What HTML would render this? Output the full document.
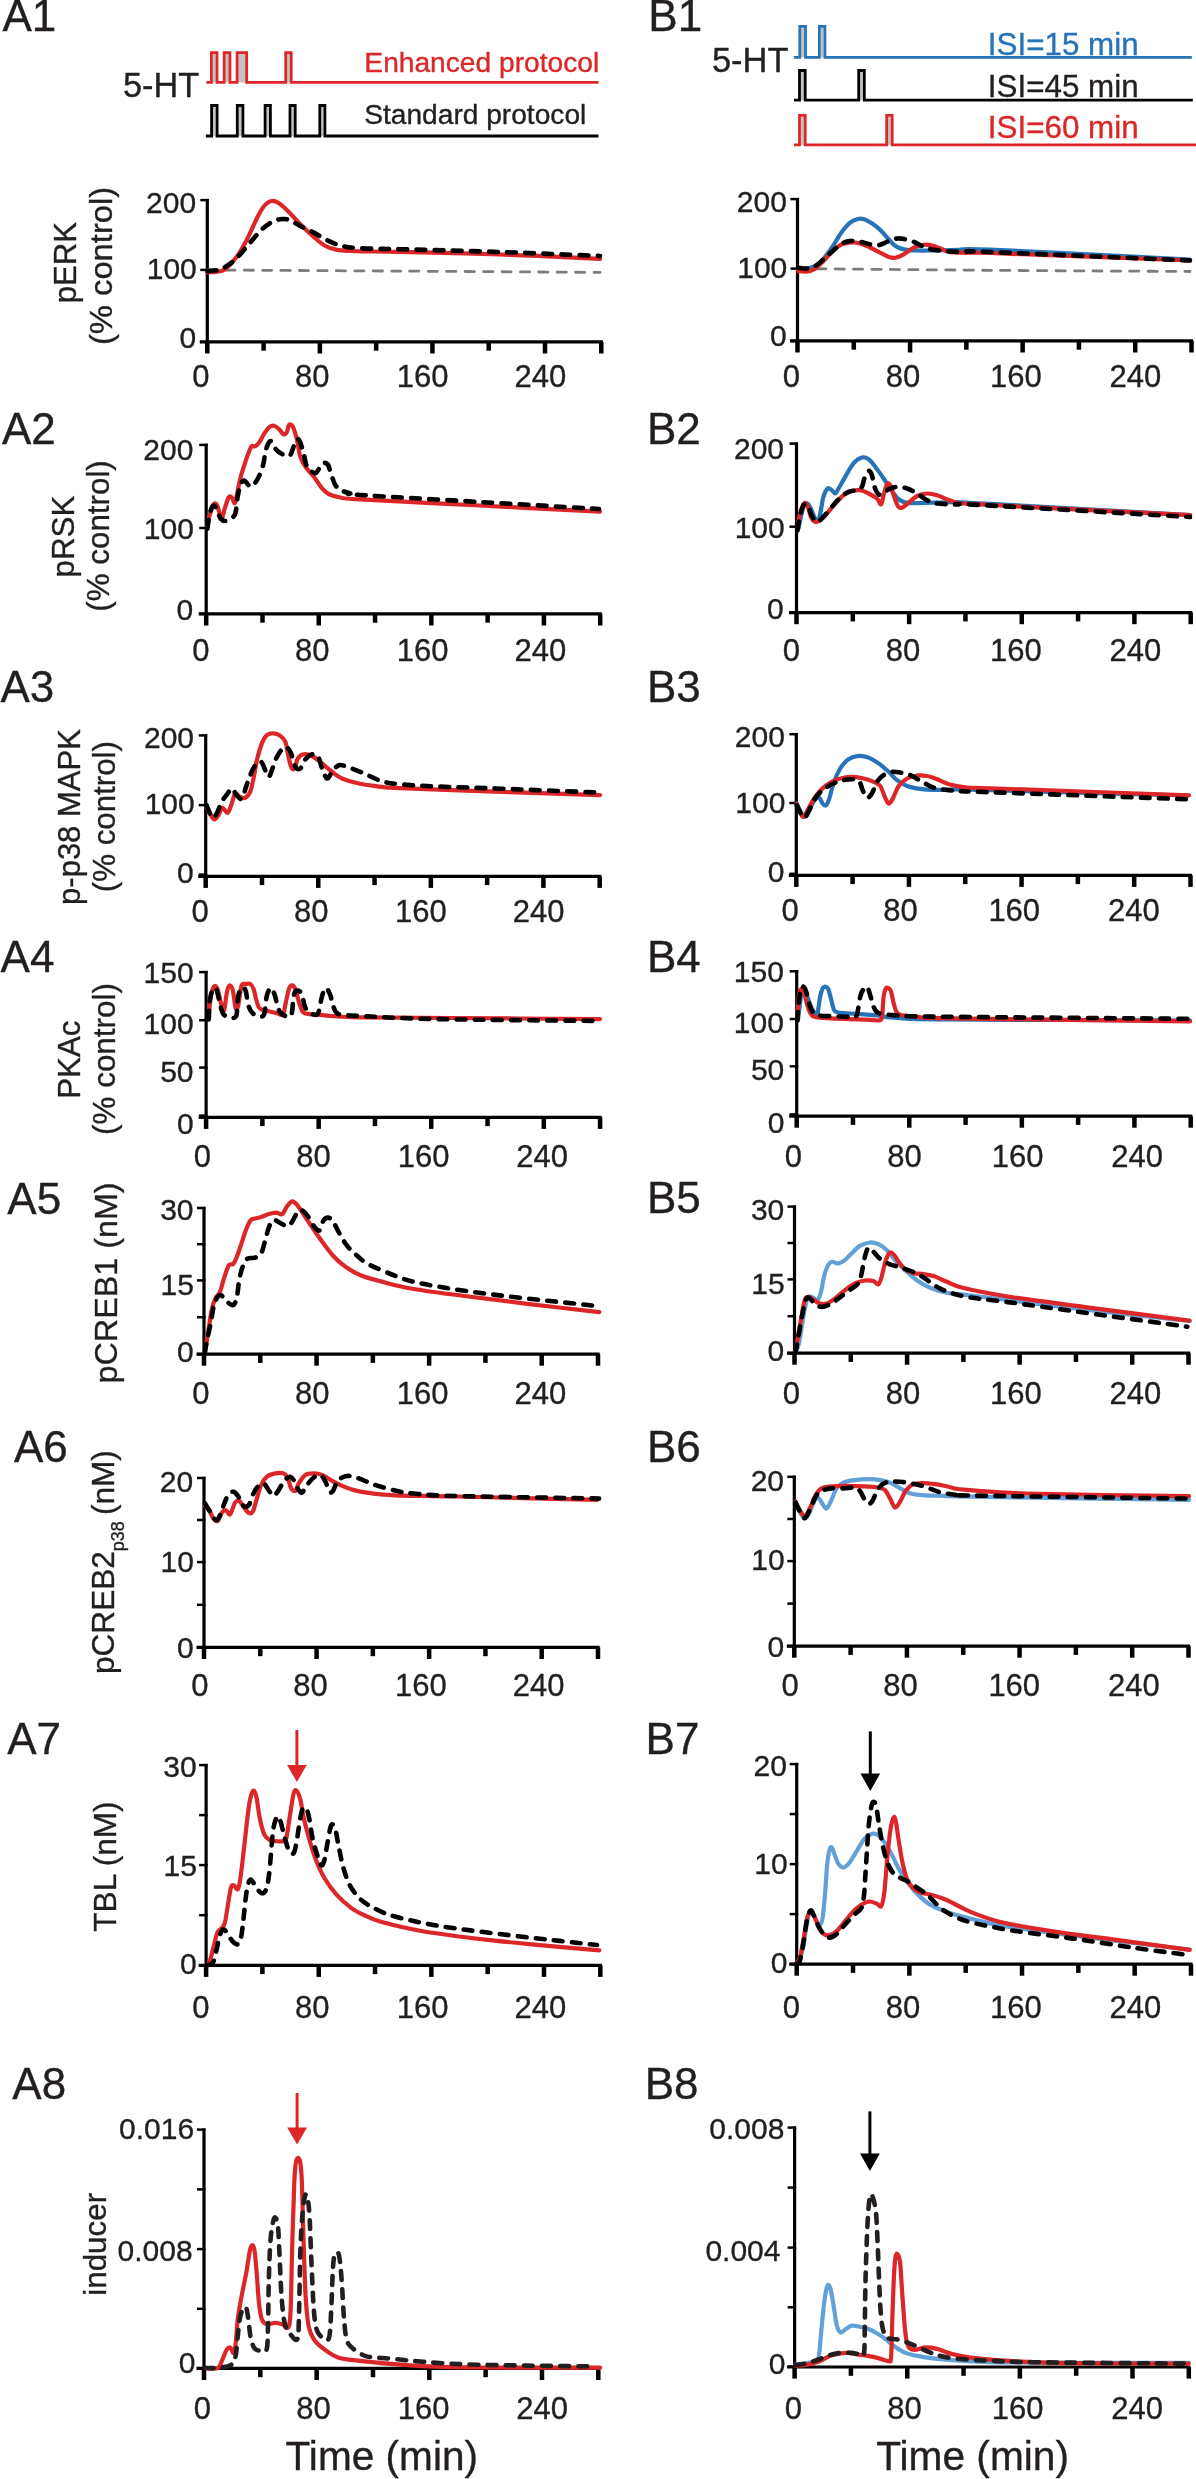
<!DOCTYPE html>
<html><head><meta charset="utf-8"><style>
html,body{margin:0;padding:0;background:#fff;}
svg{display:block;will-change:transform;}
text{font-family:"Liberation Sans",sans-serif;}
</style></head><body>
<svg width="1196" height="2479" viewBox="0 0 1196 2479">
<rect x="0" y="0" width="1196" height="2479" fill="#fff"/>
<text transform="translate(2.38,31.10)" font-size="44" fill="#231f20" stroke="#231f20" stroke-width="0.35">A1</text>
<text transform="translate(1.88,443.90)" font-size="44" fill="#231f20" stroke="#231f20" stroke-width="0.35">A2</text>
<text transform="translate(0.48,701.80)" font-size="44" fill="#231f20" stroke="#231f20" stroke-width="0.35">A3</text>
<text transform="translate(0.58,971.80)" font-size="44" fill="#231f20" stroke="#231f20" stroke-width="0.35">A4</text>
<text transform="translate(7.28,1213.80)" font-size="44" fill="#231f20" stroke="#231f20" stroke-width="0.35">A5</text>
<text transform="translate(13.98,1462.20)" font-size="44" fill="#231f20" stroke="#231f20" stroke-width="0.35">A6</text>
<text transform="translate(7.18,1753.90)" font-size="44" fill="#231f20" stroke="#231f20" stroke-width="0.35">A7</text>
<text transform="translate(12.28,2098.90)" font-size="44" fill="#231f20" stroke="#231f20" stroke-width="0.35">A8</text>
<text transform="translate(648.28,30.80)" font-size="44" fill="#231f20" stroke="#231f20" stroke-width="0.35">B1</text>
<text transform="translate(646.98,443.60)" font-size="44" fill="#231f20" stroke="#231f20" stroke-width="0.35">B2</text>
<text transform="translate(646.98,701.60)" font-size="44" fill="#231f20" stroke="#231f20" stroke-width="0.35">B3</text>
<text transform="translate(646.98,971.60)" font-size="44" fill="#231f20" stroke="#231f20" stroke-width="0.35">B4</text>
<text transform="translate(646.98,1213.30)" font-size="44" fill="#231f20" stroke="#231f20" stroke-width="0.35">B5</text>
<text transform="translate(646.98,1462.20)" font-size="44" fill="#231f20" stroke="#231f20" stroke-width="0.35">B6</text>
<text transform="translate(645.58,1753.80)" font-size="44" fill="#231f20" stroke="#231f20" stroke-width="0.35">B7</text>
<text transform="translate(644.68,2098.90)" font-size="44" fill="#231f20" stroke="#231f20" stroke-width="0.35">B8</text>
<rect x="212.70" y="53.90" width="3.00" height="28.50" fill="#c3c3c3"/>
<rect x="225.50" y="53.90" width="3.10" height="28.50" fill="#c3c3c3"/>
<rect x="238.40" y="53.90" width="6.90" height="28.50" fill="#c3c3c3"/>
<rect x="287.00" y="53.90" width="2.90" height="28.50" fill="#c3c3c3"/>
<path d="M206.40,82.40 L211.40,82.40 L211.40,52.60 L217.00,52.60 L217.00,82.40 L224.20,82.40 L224.20,52.60 L229.90,52.60 L229.90,82.40 L237.10,82.40 L237.10,52.60 L246.60,52.60 L246.60,82.40 L285.70,82.40 L285.70,52.60 L291.20,52.60 L291.20,82.40 L598.50,82.40" fill="none" stroke="#dc2628" stroke-width="2.8" stroke-linejoin="miter"/>
<rect x="212.90" y="106.80" width="2.90" height="29.20" fill="#c3c3c3"/>
<rect x="238.60" y="106.80" width="3.00" height="29.20" fill="#c3c3c3"/>
<rect x="266.40" y="106.80" width="2.70" height="29.20" fill="#c3c3c3"/>
<rect x="291.30" y="106.80" width="2.60" height="29.20" fill="#c3c3c3"/>
<rect x="321.10" y="106.80" width="2.50" height="29.20" fill="#c3c3c3"/>
<path d="M205.90,136.00 L211.60,136.00 L211.60,105.50 L217.10,105.50 L217.10,136.00 L237.30,136.00 L237.30,105.50 L242.90,105.50 L242.90,136.00 L265.10,136.00 L265.10,105.50 L270.40,105.50 L270.40,136.00 L290.00,136.00 L290.00,105.50 L295.20,105.50 L295.20,136.00 L319.80,136.00 L319.80,105.50 L324.90,105.50 L324.90,136.00 L598.50,136.00" fill="none" stroke="#000000" stroke-width="2.8" stroke-linejoin="miter"/>
<rect x="801.10" y="27.60" width="3.10" height="29.80" fill="#c3c3c3"/>
<rect x="820.70" y="27.60" width="2.90" height="29.80" fill="#c3c3c3"/>
<path d="M793.80,57.40 L799.80,57.40 L799.80,26.30 L805.50,26.30 L805.50,57.40 L819.40,57.40 L819.40,26.30 L824.90,26.30 L824.90,57.40 L1191.80,57.40" fill="none" stroke="#2673b8" stroke-width="2.8" stroke-linejoin="miter"/>
<rect x="800.80" y="71.80" width="3.10" height="28.40" fill="#c3c3c3"/>
<rect x="860.00" y="71.80" width="3.00" height="28.40" fill="#c3c3c3"/>
<path d="M794.00,100.20 L799.50,100.20 L799.50,70.50 L805.20,70.50 L805.20,100.20 L858.70,100.20 L858.70,70.50 L864.30,70.50 L864.30,100.20 L1192.80,100.20" fill="none" stroke="#000000" stroke-width="2.8" stroke-linejoin="miter"/>
<rect x="800.80" y="116.70" width="3.10" height="28.20" fill="#c3c3c3"/>
<rect x="888.00" y="116.70" width="2.90" height="28.20" fill="#c3c3c3"/>
<path d="M794.00,144.90 L799.50,144.90 L799.50,115.40 L805.20,115.40 L805.20,144.90 L886.70,144.90 L886.70,115.40 L892.20,115.40 L892.20,144.90 L1196.50,144.90" fill="none" stroke="#dc2628" stroke-width="2.8" stroke-linejoin="miter"/>
<text transform="translate(364.35,71.80) scale(1.0169,1.0000)" font-size="27.7" fill="#dc2628" stroke="#dc2628" stroke-width="0.35">Enhanced protocol</text>
<text transform="translate(364.23,124.40) scale(1.0162,1.0000)" font-size="27.7" fill="#231f20" stroke="#231f20" stroke-width="0.35">Standard protocol</text>
<text transform="translate(122.93,97.10) scale(0.9944,1.0000)" font-size="34.5" fill="#231f20" stroke="#231f20" stroke-width="0.35">5-HT</text>
<text transform="translate(711.92,71.60) scale(0.9997,1.0000)" font-size="34.5" fill="#231f20" stroke="#231f20" stroke-width="0.35">5-HT</text>
<text transform="translate(987.77,54.50) scale(0.9999,1.0000)" font-size="31.4" fill="#2673b8" stroke="#2673b8" stroke-width="0.35">ISI=15 min</text>
<text transform="translate(987.77,96.60) scale(0.9999,1.0000)" font-size="31.4" fill="#231f20" stroke="#231f20" stroke-width="0.35">ISI=45 min</text>
<text transform="translate(987.77,138.40) scale(0.9999,1.0000)" font-size="31.4" fill="#dc2628" stroke="#dc2628" stroke-width="0.35">ISI=60 min</text>
<line x1="207.30" y1="198.90" x2="207.30" y2="341.90" stroke="#000000" stroke-width="3.2"/>
<line x1="199.80" y1="341.90" x2="602.90" y2="341.90" stroke="#000000" stroke-width="3.2"/>
<line x1="200.30" y1="200.10" x2="208.80" y2="200.10" stroke="#000000" stroke-width="2.5"/>
<line x1="200.30" y1="269.90" x2="208.80" y2="269.90" stroke="#000000" stroke-width="2.5"/>
<rect x="205.05" y="341.90" width="4.5" height="11.60" fill="#000"/>
<rect x="261.34" y="341.90" width="4.5" height="8.80" fill="#000"/>
<rect x="317.62" y="341.90" width="4.5" height="11.60" fill="#000"/>
<rect x="373.91" y="341.90" width="4.5" height="8.80" fill="#000"/>
<rect x="430.19" y="341.90" width="4.5" height="11.60" fill="#000"/>
<rect x="486.48" y="341.90" width="4.5" height="8.80" fill="#000"/>
<rect x="542.76" y="341.90" width="4.5" height="11.60" fill="#000"/>
<rect x="599.05" y="341.90" width="4.5" height="11.60" fill="#000"/>
<text transform="translate(192.16,387.20)" font-size="31" fill="#231f20" stroke="#231f20" stroke-width="0.35">0</text>
<text transform="translate(295.00,387.20)" font-size="31" fill="#231f20" stroke="#231f20" stroke-width="0.35">80</text>
<text transform="translate(396.68,387.20)" font-size="31" fill="#231f20" stroke="#231f20" stroke-width="0.35">160</text>
<text transform="translate(514.55,387.20)" font-size="31" fill="#231f20" stroke="#231f20" stroke-width="0.35">240</text>
<text transform="translate(146.07,212.60)" font-size="30.0" fill="#231f20" stroke="#231f20" stroke-width="0.35">200</text>
<text transform="translate(146.70,278.80)" font-size="30.0" fill="#231f20" stroke="#231f20" stroke-width="0.35">100</text>
<text transform="translate(179.38,347.60)" font-size="30.0" fill="#231f20" stroke="#231f20" stroke-width="0.35">0</text>
<line x1="206.20" y1="443.70" x2="206.20" y2="613.90" stroke="#000000" stroke-width="3.2"/>
<line x1="198.70" y1="613.90" x2="601.80" y2="613.90" stroke="#000000" stroke-width="3.2"/>
<line x1="199.20" y1="444.90" x2="207.70" y2="444.90" stroke="#000000" stroke-width="2.5"/>
<line x1="199.20" y1="528.00" x2="207.70" y2="528.00" stroke="#000000" stroke-width="2.5"/>
<line x1="199.20" y1="613.90" x2="207.70" y2="613.90" stroke="#000000" stroke-width="2.5"/>
<rect x="203.95" y="613.90" width="4.5" height="11.60" fill="#000"/>
<rect x="260.24" y="613.90" width="4.5" height="8.80" fill="#000"/>
<rect x="316.52" y="613.90" width="4.5" height="11.60" fill="#000"/>
<rect x="372.81" y="613.90" width="4.5" height="8.80" fill="#000"/>
<rect x="429.09" y="613.90" width="4.5" height="11.60" fill="#000"/>
<rect x="485.38" y="613.90" width="4.5" height="8.80" fill="#000"/>
<rect x="541.66" y="613.90" width="4.5" height="11.60" fill="#000"/>
<rect x="597.95" y="613.90" width="4.5" height="11.60" fill="#000"/>
<text transform="translate(192.16,660.70)" font-size="31" fill="#231f20" stroke="#231f20" stroke-width="0.35">0</text>
<text transform="translate(295.00,660.70)" font-size="31" fill="#231f20" stroke="#231f20" stroke-width="0.35">80</text>
<text transform="translate(396.68,660.70)" font-size="31" fill="#231f20" stroke="#231f20" stroke-width="0.35">160</text>
<text transform="translate(514.55,660.70)" font-size="31" fill="#231f20" stroke="#231f20" stroke-width="0.35">240</text>
<text transform="translate(143.32,460.30)" font-size="30.0" fill="#231f20" stroke="#231f20" stroke-width="0.35">200</text>
<text transform="translate(143.80,539.10)" font-size="30.0" fill="#231f20" stroke="#231f20" stroke-width="0.35">100</text>
<text transform="translate(176.48,619.70)" font-size="30.0" fill="#231f20" stroke="#231f20" stroke-width="0.35">0</text>
<line x1="205.70" y1="734.20" x2="205.70" y2="876.30" stroke="#000000" stroke-width="3.2"/>
<line x1="198.20" y1="876.30" x2="601.30" y2="876.30" stroke="#000000" stroke-width="3.2"/>
<line x1="198.70" y1="735.40" x2="207.20" y2="735.40" stroke="#000000" stroke-width="2.5"/>
<line x1="198.70" y1="805.10" x2="207.20" y2="805.10" stroke="#000000" stroke-width="2.5"/>
<line x1="198.70" y1="874.60" x2="207.20" y2="874.60" stroke="#000000" stroke-width="2.5"/>
<rect x="203.45" y="876.30" width="4.5" height="11.60" fill="#000"/>
<rect x="259.74" y="876.30" width="4.5" height="8.80" fill="#000"/>
<rect x="316.02" y="876.30" width="4.5" height="11.60" fill="#000"/>
<rect x="372.31" y="876.30" width="4.5" height="8.80" fill="#000"/>
<rect x="428.59" y="876.30" width="4.5" height="11.60" fill="#000"/>
<rect x="484.88" y="876.30" width="4.5" height="8.80" fill="#000"/>
<rect x="541.16" y="876.30" width="4.5" height="11.60" fill="#000"/>
<rect x="597.45" y="876.30" width="4.5" height="11.60" fill="#000"/>
<text transform="translate(191.46,921.60)" font-size="31" fill="#231f20" stroke="#231f20" stroke-width="0.35">0</text>
<text transform="translate(294.00,921.60)" font-size="31" fill="#231f20" stroke="#231f20" stroke-width="0.35">80</text>
<text transform="translate(395.07,921.60)" font-size="31" fill="#231f20" stroke="#231f20" stroke-width="0.35">160</text>
<text transform="translate(512.85,921.60)" font-size="31" fill="#231f20" stroke="#231f20" stroke-width="0.35">240</text>
<text transform="translate(143.97,747.80)" font-size="30.0" fill="#231f20" stroke="#231f20" stroke-width="0.35">200</text>
<text transform="translate(144.65,814.30)" font-size="30.0" fill="#231f20" stroke="#231f20" stroke-width="0.35">100</text>
<text transform="translate(177.08,883.00)" font-size="30.0" fill="#231f20" stroke="#231f20" stroke-width="0.35">0</text>
<line x1="206.10" y1="970.90" x2="206.10" y2="1117.30" stroke="#000000" stroke-width="3.2"/>
<line x1="198.60" y1="1117.30" x2="601.70" y2="1117.30" stroke="#000000" stroke-width="3.2"/>
<line x1="199.10" y1="972.10" x2="207.60" y2="972.10" stroke="#000000" stroke-width="2.5"/>
<line x1="199.10" y1="1020.20" x2="207.60" y2="1020.20" stroke="#000000" stroke-width="2.5"/>
<line x1="199.10" y1="1067.60" x2="207.60" y2="1067.60" stroke="#000000" stroke-width="2.5"/>
<line x1="199.10" y1="1115.60" x2="207.60" y2="1115.60" stroke="#000000" stroke-width="2.5"/>
<rect x="203.85" y="1117.30" width="4.5" height="11.60" fill="#000"/>
<rect x="260.14" y="1117.30" width="4.5" height="8.80" fill="#000"/>
<rect x="316.42" y="1117.30" width="4.5" height="11.60" fill="#000"/>
<rect x="372.71" y="1117.30" width="4.5" height="8.80" fill="#000"/>
<rect x="428.99" y="1117.30" width="4.5" height="11.60" fill="#000"/>
<rect x="485.28" y="1117.30" width="4.5" height="8.80" fill="#000"/>
<rect x="541.56" y="1117.30" width="4.5" height="11.60" fill="#000"/>
<rect x="597.85" y="1117.30" width="4.5" height="11.60" fill="#000"/>
<text transform="translate(193.76,1166.60)" font-size="31" fill="#231f20" stroke="#231f20" stroke-width="0.35">0</text>
<text transform="translate(296.31,1166.60)" font-size="31" fill="#231f20" stroke="#231f20" stroke-width="0.35">80</text>
<text transform="translate(397.68,1166.60)" font-size="31" fill="#231f20" stroke="#231f20" stroke-width="0.35">160</text>
<text transform="translate(516.25,1166.60)" font-size="31" fill="#231f20" stroke="#231f20" stroke-width="0.35">240</text>
<text transform="translate(143.60,982.60)" font-size="30.0" fill="#231f20" stroke="#231f20" stroke-width="0.35">150</text>
<text transform="translate(143.60,1033.60)" font-size="30.0" fill="#231f20" stroke="#231f20" stroke-width="0.35">100</text>
<text transform="translate(160.15,1081.80)" font-size="30.0" fill="#231f20" stroke="#231f20" stroke-width="0.35">50</text>
<text transform="translate(177.07,1134.00)" font-size="30.0" fill="#231f20" stroke="#231f20" stroke-width="0.35">0</text>
<line x1="204.00" y1="1206.80" x2="204.00" y2="1354.10" stroke="#000000" stroke-width="3.2"/>
<line x1="196.50" y1="1354.10" x2="599.60" y2="1354.10" stroke="#000000" stroke-width="3.2"/>
<line x1="197.00" y1="1208.00" x2="205.50" y2="1208.00" stroke="#000000" stroke-width="2.5"/>
<line x1="197.00" y1="1280.40" x2="205.50" y2="1280.40" stroke="#000000" stroke-width="2.5"/>
<line x1="197.00" y1="1354.10" x2="205.50" y2="1354.10" stroke="#000000" stroke-width="2.5"/>
<line x1="197.00" y1="1244.20" x2="205.50" y2="1244.20" stroke="#000000" stroke-width="2.5"/>
<line x1="197.00" y1="1317.20" x2="205.50" y2="1317.20" stroke="#000000" stroke-width="2.5"/>
<rect x="201.75" y="1354.10" width="4.5" height="11.60" fill="#000"/>
<rect x="258.04" y="1354.10" width="4.5" height="8.80" fill="#000"/>
<rect x="314.32" y="1354.10" width="4.5" height="11.60" fill="#000"/>
<rect x="370.61" y="1354.10" width="4.5" height="8.80" fill="#000"/>
<rect x="426.89" y="1354.10" width="4.5" height="11.60" fill="#000"/>
<rect x="483.18" y="1354.10" width="4.5" height="8.80" fill="#000"/>
<rect x="539.46" y="1354.10" width="4.5" height="11.60" fill="#000"/>
<rect x="595.75" y="1354.10" width="4.5" height="11.60" fill="#000"/>
<text transform="translate(192.16,1403.60)" font-size="31" fill="#231f20" stroke="#231f20" stroke-width="0.35">0</text>
<text transform="translate(295.00,1403.60)" font-size="31" fill="#231f20" stroke="#231f20" stroke-width="0.35">80</text>
<text transform="translate(396.68,1403.60)" font-size="31" fill="#231f20" stroke="#231f20" stroke-width="0.35">160</text>
<text transform="translate(514.55,1403.60)" font-size="31" fill="#231f20" stroke="#231f20" stroke-width="0.35">240</text>
<text transform="translate(160.15,1220.30)" font-size="30.0" fill="#231f20" stroke="#231f20" stroke-width="0.35">30</text>
<text transform="translate(160.47,1295.00)" font-size="30.0" fill="#231f20" stroke="#231f20" stroke-width="0.35">15</text>
<text transform="translate(177.07,1362.20)" font-size="30.0" fill="#231f20" stroke="#231f20" stroke-width="0.35">0</text>
<line x1="204.00" y1="1476.80" x2="204.00" y2="1647.40" stroke="#000000" stroke-width="3.2"/>
<line x1="196.50" y1="1647.40" x2="599.60" y2="1647.40" stroke="#000000" stroke-width="3.2"/>
<line x1="197.00" y1="1478.00" x2="205.50" y2="1478.00" stroke="#000000" stroke-width="2.5"/>
<line x1="197.00" y1="1562.10" x2="205.50" y2="1562.10" stroke="#000000" stroke-width="2.5"/>
<line x1="197.00" y1="1647.40" x2="205.50" y2="1647.40" stroke="#000000" stroke-width="2.5"/>
<line x1="197.00" y1="1520.00" x2="205.50" y2="1520.00" stroke="#000000" stroke-width="2.5"/>
<line x1="197.00" y1="1604.80" x2="205.50" y2="1604.80" stroke="#000000" stroke-width="2.5"/>
<rect x="201.75" y="1647.40" width="4.5" height="11.60" fill="#000"/>
<rect x="258.04" y="1647.40" width="4.5" height="8.80" fill="#000"/>
<rect x="314.32" y="1647.40" width="4.5" height="11.60" fill="#000"/>
<rect x="370.61" y="1647.40" width="4.5" height="8.80" fill="#000"/>
<rect x="426.89" y="1647.40" width="4.5" height="11.60" fill="#000"/>
<rect x="483.18" y="1647.40" width="4.5" height="8.80" fill="#000"/>
<rect x="539.46" y="1647.40" width="4.5" height="11.60" fill="#000"/>
<rect x="595.75" y="1647.40" width="4.5" height="11.60" fill="#000"/>
<text transform="translate(191.16,1695.90)" font-size="31" fill="#231f20" stroke="#231f20" stroke-width="0.35">0</text>
<text transform="translate(293.31,1695.90)" font-size="31" fill="#231f20" stroke="#231f20" stroke-width="0.35">80</text>
<text transform="translate(395.07,1695.90)" font-size="31" fill="#231f20" stroke="#231f20" stroke-width="0.35">160</text>
<text transform="translate(512.85,1695.90)" font-size="31" fill="#231f20" stroke="#231f20" stroke-width="0.35">240</text>
<text transform="translate(159.80,1491.60)" font-size="30.0" fill="#231f20" stroke="#231f20" stroke-width="0.35">20</text>
<text transform="translate(160.47,1571.90)" font-size="30.0" fill="#231f20" stroke="#231f20" stroke-width="0.35">10</text>
<text transform="translate(176.93,1658.40)" font-size="30.0" fill="#231f20" stroke="#231f20" stroke-width="0.35">0</text>
<line x1="206.10" y1="1763.90" x2="206.10" y2="1965.30" stroke="#000000" stroke-width="3.2"/>
<line x1="198.60" y1="1965.30" x2="601.90" y2="1965.30" stroke="#000000" stroke-width="3.2"/>
<line x1="199.10" y1="1765.10" x2="207.60" y2="1765.10" stroke="#000000" stroke-width="2.5"/>
<line x1="199.10" y1="1865.10" x2="207.60" y2="1865.10" stroke="#000000" stroke-width="2.5"/>
<line x1="199.10" y1="1965.30" x2="207.60" y2="1965.30" stroke="#000000" stroke-width="2.5"/>
<line x1="199.10" y1="1815.10" x2="207.60" y2="1815.10" stroke="#000000" stroke-width="2.5"/>
<line x1="199.10" y1="1915.20" x2="207.60" y2="1915.20" stroke="#000000" stroke-width="2.5"/>
<rect x="203.85" y="1965.30" width="4.5" height="11.60" fill="#000"/>
<rect x="260.16" y="1965.30" width="4.5" height="8.80" fill="#000"/>
<rect x="316.48" y="1965.30" width="4.5" height="11.60" fill="#000"/>
<rect x="372.79" y="1965.30" width="4.5" height="8.80" fill="#000"/>
<rect x="429.11" y="1965.30" width="4.5" height="11.60" fill="#000"/>
<rect x="485.42" y="1965.30" width="4.5" height="8.80" fill="#000"/>
<rect x="541.74" y="1965.30" width="4.5" height="11.60" fill="#000"/>
<rect x="598.05" y="1965.30" width="4.5" height="11.60" fill="#000"/>
<text transform="translate(192.16,2018.20)" font-size="31" fill="#231f20" stroke="#231f20" stroke-width="0.35">0</text>
<text transform="translate(295.00,2018.20)" font-size="31" fill="#231f20" stroke="#231f20" stroke-width="0.35">80</text>
<text transform="translate(396.68,2018.20)" font-size="31" fill="#231f20" stroke="#231f20" stroke-width="0.35">160</text>
<text transform="translate(514.55,2018.20)" font-size="31" fill="#231f20" stroke="#231f20" stroke-width="0.35">240</text>
<text transform="translate(163.35,1776.80)" font-size="30.0" fill="#231f20" stroke="#231f20" stroke-width="0.35">30</text>
<text transform="translate(163.52,1875.50)" font-size="30.0" fill="#231f20" stroke="#231f20" stroke-width="0.35">15</text>
<text transform="translate(179.98,1974.30)" font-size="30.0" fill="#231f20" stroke="#231f20" stroke-width="0.35">0</text>
<line x1="204.00" y1="2128.40" x2="204.00" y2="2368.40" stroke="#000000" stroke-width="3.2"/>
<line x1="196.50" y1="2368.40" x2="599.90" y2="2368.40" stroke="#000000" stroke-width="3.2"/>
<line x1="197.00" y1="2129.60" x2="205.50" y2="2129.60" stroke="#000000" stroke-width="2.5"/>
<line x1="197.00" y1="2249.10" x2="205.50" y2="2249.10" stroke="#000000" stroke-width="2.5"/>
<line x1="197.00" y1="2368.40" x2="205.50" y2="2368.40" stroke="#000000" stroke-width="2.5"/>
<line x1="197.00" y1="2189.40" x2="205.50" y2="2189.40" stroke="#000000" stroke-width="2.5"/>
<line x1="197.00" y1="2308.80" x2="205.50" y2="2308.80" stroke="#000000" stroke-width="2.5"/>
<rect x="201.75" y="2368.40" width="4.5" height="11.60" fill="#000"/>
<rect x="258.08" y="2368.40" width="4.5" height="8.80" fill="#000"/>
<rect x="314.41" y="2368.40" width="4.5" height="11.60" fill="#000"/>
<rect x="370.74" y="2368.40" width="4.5" height="8.80" fill="#000"/>
<rect x="427.06" y="2368.40" width="4.5" height="11.60" fill="#000"/>
<rect x="483.39" y="2368.40" width="4.5" height="8.80" fill="#000"/>
<rect x="539.72" y="2368.40" width="4.5" height="11.60" fill="#000"/>
<rect x="596.05" y="2368.40" width="4.5" height="11.60" fill="#000"/>
<text transform="translate(193.76,2419.30)" font-size="31" fill="#231f20" stroke="#231f20" stroke-width="0.35">0</text>
<text transform="translate(296.31,2419.30)" font-size="31" fill="#231f20" stroke="#231f20" stroke-width="0.35">80</text>
<text transform="translate(397.68,2419.30)" font-size="31" fill="#231f20" stroke="#231f20" stroke-width="0.35">160</text>
<text transform="translate(516.25,2419.30)" font-size="31" fill="#231f20" stroke="#231f20" stroke-width="0.35">240</text>
<text transform="translate(119.02,2138.60)" font-size="30.0" fill="#231f20" stroke="#231f20" stroke-width="0.35">0.016</text>
<text transform="translate(117.52,2260.60)" font-size="30.0" fill="#231f20" stroke="#231f20" stroke-width="0.35">0.008</text>
<text transform="translate(178.73,2373.40)" font-size="30.0" fill="#231f20" stroke="#231f20" stroke-width="0.35">0</text>
<line x1="797.50" y1="197.90" x2="797.50" y2="340.90" stroke="#000000" stroke-width="3.2"/>
<line x1="790.00" y1="340.90" x2="1193.10" y2="340.90" stroke="#000000" stroke-width="3.2"/>
<line x1="790.50" y1="199.10" x2="799.00" y2="199.10" stroke="#000000" stroke-width="2.5"/>
<line x1="790.50" y1="268.60" x2="799.00" y2="268.60" stroke="#000000" stroke-width="2.5"/>
<line x1="790.50" y1="340.90" x2="799.00" y2="340.90" stroke="#000000" stroke-width="2.5"/>
<rect x="795.25" y="340.90" width="4.5" height="11.60" fill="#000"/>
<rect x="851.54" y="340.90" width="4.5" height="8.80" fill="#000"/>
<rect x="907.82" y="340.90" width="4.5" height="11.60" fill="#000"/>
<rect x="964.11" y="340.90" width="4.5" height="8.80" fill="#000"/>
<rect x="1020.39" y="340.90" width="4.5" height="11.60" fill="#000"/>
<rect x="1076.68" y="340.90" width="4.5" height="8.80" fill="#000"/>
<rect x="1132.96" y="340.90" width="4.5" height="11.60" fill="#000"/>
<rect x="1189.25" y="340.90" width="4.5" height="11.60" fill="#000"/>
<text transform="translate(782.76,387.20)" font-size="31" fill="#231f20" stroke="#231f20" stroke-width="0.35">0</text>
<text transform="translate(885.71,387.20)" font-size="31" fill="#231f20" stroke="#231f20" stroke-width="0.35">80</text>
<text transform="translate(990.07,387.20)" font-size="31" fill="#231f20" stroke="#231f20" stroke-width="0.35">160</text>
<text transform="translate(1109.55,387.20)" font-size="31" fill="#231f20" stroke="#231f20" stroke-width="0.35">240</text>
<text transform="translate(736.78,211.60)" font-size="30.0" fill="#231f20" stroke="#231f20" stroke-width="0.35">200</text>
<text transform="translate(737.20,277.60)" font-size="30.0" fill="#231f20" stroke="#231f20" stroke-width="0.35">100</text>
<text transform="translate(770.08,345.90)" font-size="30.0" fill="#231f20" stroke="#231f20" stroke-width="0.35">0</text>
<line x1="796.50" y1="442.40" x2="796.50" y2="612.60" stroke="#000000" stroke-width="3.2"/>
<line x1="789.00" y1="612.60" x2="1192.30" y2="612.60" stroke="#000000" stroke-width="3.2"/>
<line x1="789.50" y1="443.60" x2="798.00" y2="443.60" stroke="#000000" stroke-width="2.5"/>
<line x1="789.50" y1="526.70" x2="798.00" y2="526.70" stroke="#000000" stroke-width="2.5"/>
<line x1="789.50" y1="612.60" x2="798.00" y2="612.60" stroke="#000000" stroke-width="2.5"/>
<rect x="794.25" y="612.60" width="4.5" height="11.60" fill="#000"/>
<rect x="850.56" y="612.60" width="4.5" height="8.80" fill="#000"/>
<rect x="906.88" y="612.60" width="4.5" height="11.60" fill="#000"/>
<rect x="963.19" y="612.60" width="4.5" height="8.80" fill="#000"/>
<rect x="1019.51" y="612.60" width="4.5" height="11.60" fill="#000"/>
<rect x="1075.82" y="612.60" width="4.5" height="8.80" fill="#000"/>
<rect x="1132.14" y="612.60" width="4.5" height="11.60" fill="#000"/>
<rect x="1188.45" y="612.60" width="4.5" height="11.60" fill="#000"/>
<text transform="translate(782.76,660.70)" font-size="31" fill="#231f20" stroke="#231f20" stroke-width="0.35">0</text>
<text transform="translate(885.71,660.70)" font-size="31" fill="#231f20" stroke="#231f20" stroke-width="0.35">80</text>
<text transform="translate(990.07,660.70)" font-size="31" fill="#231f20" stroke="#231f20" stroke-width="0.35">160</text>
<text transform="translate(1109.55,660.70)" font-size="31" fill="#231f20" stroke="#231f20" stroke-width="0.35">240</text>
<text transform="translate(733.98,459.30)" font-size="30.0" fill="#231f20" stroke="#231f20" stroke-width="0.35">200</text>
<text transform="translate(734.65,537.60)" font-size="30.0" fill="#231f20" stroke="#231f20" stroke-width="0.35">100</text>
<text transform="translate(767.07,618.50)" font-size="30.0" fill="#231f20" stroke="#231f20" stroke-width="0.35">0</text>
<line x1="796.30" y1="733.00" x2="796.30" y2="875.30" stroke="#000000" stroke-width="3.2"/>
<line x1="788.80" y1="875.30" x2="1192.10" y2="875.30" stroke="#000000" stroke-width="3.2"/>
<line x1="789.30" y1="734.20" x2="797.80" y2="734.20" stroke="#000000" stroke-width="2.5"/>
<line x1="789.30" y1="803.00" x2="797.80" y2="803.00" stroke="#000000" stroke-width="2.5"/>
<line x1="789.30" y1="873.80" x2="797.80" y2="873.80" stroke="#000000" stroke-width="2.5"/>
<rect x="794.05" y="875.30" width="4.5" height="11.60" fill="#000"/>
<rect x="850.36" y="875.30" width="4.5" height="8.80" fill="#000"/>
<rect x="906.68" y="875.30" width="4.5" height="11.60" fill="#000"/>
<rect x="962.99" y="875.30" width="4.5" height="8.80" fill="#000"/>
<rect x="1019.31" y="875.30" width="4.5" height="11.60" fill="#000"/>
<rect x="1075.62" y="875.30" width="4.5" height="8.80" fill="#000"/>
<rect x="1131.94" y="875.30" width="4.5" height="11.60" fill="#000"/>
<rect x="1188.25" y="875.30" width="4.5" height="11.60" fill="#000"/>
<text transform="translate(781.46,921.30)" font-size="31" fill="#231f20" stroke="#231f20" stroke-width="0.35">0</text>
<text transform="translate(883.31,921.30)" font-size="31" fill="#231f20" stroke="#231f20" stroke-width="0.35">80</text>
<text transform="translate(988.38,921.30)" font-size="31" fill="#231f20" stroke="#231f20" stroke-width="0.35">160</text>
<text transform="translate(1107.95,921.30)" font-size="31" fill="#231f20" stroke="#231f20" stroke-width="0.35">240</text>
<text transform="translate(734.77,747.20)" font-size="30.0" fill="#231f20" stroke="#231f20" stroke-width="0.35">200</text>
<text transform="translate(735.30,812.80)" font-size="30.0" fill="#231f20" stroke="#231f20" stroke-width="0.35">100</text>
<text transform="translate(767.77,881.60)" font-size="30.0" fill="#231f20" stroke="#231f20" stroke-width="0.35">0</text>
<line x1="796.70" y1="970.10" x2="796.70" y2="1116.10" stroke="#000000" stroke-width="3.2"/>
<line x1="789.20" y1="1116.10" x2="1192.30" y2="1116.10" stroke="#000000" stroke-width="3.2"/>
<line x1="789.70" y1="971.30" x2="798.20" y2="971.30" stroke="#000000" stroke-width="2.5"/>
<line x1="789.70" y1="1019.00" x2="798.20" y2="1019.00" stroke="#000000" stroke-width="2.5"/>
<line x1="789.70" y1="1066.30" x2="798.20" y2="1066.30" stroke="#000000" stroke-width="2.5"/>
<line x1="789.70" y1="1114.40" x2="798.20" y2="1114.40" stroke="#000000" stroke-width="2.5"/>
<rect x="794.45" y="1116.10" width="4.5" height="11.60" fill="#000"/>
<rect x="850.74" y="1116.10" width="4.5" height="8.80" fill="#000"/>
<rect x="907.02" y="1116.10" width="4.5" height="11.60" fill="#000"/>
<rect x="963.31" y="1116.10" width="4.5" height="8.80" fill="#000"/>
<rect x="1019.59" y="1116.10" width="4.5" height="11.60" fill="#000"/>
<rect x="1075.88" y="1116.10" width="4.5" height="8.80" fill="#000"/>
<rect x="1132.16" y="1116.10" width="4.5" height="11.60" fill="#000"/>
<rect x="1188.45" y="1116.10" width="4.5" height="11.60" fill="#000"/>
<text transform="translate(784.76,1166.90)" font-size="31" fill="#231f20" stroke="#231f20" stroke-width="0.35">0</text>
<text transform="translate(887.31,1166.90)" font-size="31" fill="#231f20" stroke="#231f20" stroke-width="0.35">80</text>
<text transform="translate(991.77,1166.90)" font-size="31" fill="#231f20" stroke="#231f20" stroke-width="0.35">160</text>
<text transform="translate(1111.25,1166.90)" font-size="31" fill="#231f20" stroke="#231f20" stroke-width="0.35">240</text>
<text transform="translate(733.80,981.60)" font-size="30.0" fill="#231f20" stroke="#231f20" stroke-width="0.35">150</text>
<text transform="translate(733.80,1032.80)" font-size="30.0" fill="#231f20" stroke="#231f20" stroke-width="0.35">100</text>
<text transform="translate(750.90,1080.30)" font-size="30.0" fill="#231f20" stroke="#231f20" stroke-width="0.35">50</text>
<text transform="translate(767.77,1133.20)" font-size="30.0" fill="#231f20" stroke="#231f20" stroke-width="0.35">0</text>
<line x1="794.50" y1="1205.40" x2="794.50" y2="1353.10" stroke="#000000" stroke-width="3.2"/>
<line x1="787.00" y1="1353.10" x2="1190.10" y2="1353.10" stroke="#000000" stroke-width="3.2"/>
<line x1="787.50" y1="1206.60" x2="796.00" y2="1206.60" stroke="#000000" stroke-width="2.5"/>
<line x1="787.50" y1="1279.40" x2="796.00" y2="1279.40" stroke="#000000" stroke-width="2.5"/>
<line x1="787.50" y1="1353.10" x2="796.00" y2="1353.10" stroke="#000000" stroke-width="2.5"/>
<line x1="787.50" y1="1243.00" x2="796.00" y2="1243.00" stroke="#000000" stroke-width="2.5"/>
<line x1="787.50" y1="1316.20" x2="796.00" y2="1316.20" stroke="#000000" stroke-width="2.5"/>
<rect x="792.25" y="1353.10" width="4.5" height="11.60" fill="#000"/>
<rect x="848.54" y="1353.10" width="4.5" height="8.80" fill="#000"/>
<rect x="904.82" y="1353.10" width="4.5" height="11.60" fill="#000"/>
<rect x="961.11" y="1353.10" width="4.5" height="8.80" fill="#000"/>
<rect x="1017.39" y="1353.10" width="4.5" height="11.60" fill="#000"/>
<rect x="1073.68" y="1353.10" width="4.5" height="8.80" fill="#000"/>
<rect x="1129.96" y="1353.10" width="4.5" height="11.60" fill="#000"/>
<rect x="1186.25" y="1353.10" width="4.5" height="11.60" fill="#000"/>
<text transform="translate(782.76,1403.60)" font-size="31" fill="#231f20" stroke="#231f20" stroke-width="0.35">0</text>
<text transform="translate(885.71,1403.60)" font-size="31" fill="#231f20" stroke="#231f20" stroke-width="0.35">80</text>
<text transform="translate(990.07,1403.60)" font-size="31" fill="#231f20" stroke="#231f20" stroke-width="0.35">160</text>
<text transform="translate(1109.55,1403.60)" font-size="31" fill="#231f20" stroke="#231f20" stroke-width="0.35">240</text>
<text transform="translate(750.90,1219.60)" font-size="30.0" fill="#231f20" stroke="#231f20" stroke-width="0.35">30</text>
<text transform="translate(751.23,1293.90)" font-size="30.0" fill="#231f20" stroke="#231f20" stroke-width="0.35">15</text>
<text transform="translate(767.47,1361.40)" font-size="30.0" fill="#231f20" stroke="#231f20" stroke-width="0.35">0</text>
<line x1="794.30" y1="1475.60" x2="794.30" y2="1646.10" stroke="#000000" stroke-width="3.2"/>
<line x1="786.80" y1="1646.10" x2="1190.10" y2="1646.10" stroke="#000000" stroke-width="3.2"/>
<line x1="787.30" y1="1476.80" x2="795.80" y2="1476.80" stroke="#000000" stroke-width="2.5"/>
<line x1="787.30" y1="1561.10" x2="795.80" y2="1561.10" stroke="#000000" stroke-width="2.5"/>
<line x1="787.30" y1="1646.10" x2="795.80" y2="1646.10" stroke="#000000" stroke-width="2.5"/>
<line x1="787.30" y1="1519.00" x2="795.80" y2="1519.00" stroke="#000000" stroke-width="2.5"/>
<line x1="787.30" y1="1603.60" x2="795.80" y2="1603.60" stroke="#000000" stroke-width="2.5"/>
<rect x="792.05" y="1646.10" width="4.5" height="11.60" fill="#000"/>
<rect x="848.36" y="1646.10" width="4.5" height="8.80" fill="#000"/>
<rect x="904.68" y="1646.10" width="4.5" height="11.60" fill="#000"/>
<rect x="960.99" y="1646.10" width="4.5" height="8.80" fill="#000"/>
<rect x="1017.31" y="1646.10" width="4.5" height="11.60" fill="#000"/>
<rect x="1073.62" y="1646.10" width="4.5" height="8.80" fill="#000"/>
<rect x="1129.94" y="1646.10" width="4.5" height="11.60" fill="#000"/>
<rect x="1186.25" y="1646.10" width="4.5" height="11.60" fill="#000"/>
<text transform="translate(781.46,1695.90)" font-size="31" fill="#231f20" stroke="#231f20" stroke-width="0.35">0</text>
<text transform="translate(883.31,1695.90)" font-size="31" fill="#231f20" stroke="#231f20" stroke-width="0.35">80</text>
<text transform="translate(988.38,1695.90)" font-size="31" fill="#231f20" stroke="#231f20" stroke-width="0.35">160</text>
<text transform="translate(1107.95,1695.90)" font-size="31" fill="#231f20" stroke="#231f20" stroke-width="0.35">240</text>
<text transform="translate(750.65,1490.60)" font-size="30.0" fill="#231f20" stroke="#231f20" stroke-width="0.35">20</text>
<text transform="translate(751.28,1570.40)" font-size="30.0" fill="#231f20" stroke="#231f20" stroke-width="0.35">10</text>
<text transform="translate(767.62,1656.70)" font-size="30.0" fill="#231f20" stroke="#231f20" stroke-width="0.35">0</text>
<line x1="796.70" y1="1762.90" x2="796.70" y2="1964.10" stroke="#000000" stroke-width="3.2"/>
<line x1="789.20" y1="1964.10" x2="1192.60" y2="1964.10" stroke="#000000" stroke-width="3.2"/>
<line x1="789.70" y1="1764.10" x2="798.20" y2="1764.10" stroke="#000000" stroke-width="2.5"/>
<line x1="789.70" y1="1864.10" x2="798.20" y2="1864.10" stroke="#000000" stroke-width="2.5"/>
<line x1="789.70" y1="1964.10" x2="798.20" y2="1964.10" stroke="#000000" stroke-width="2.5"/>
<line x1="789.70" y1="1814.10" x2="798.20" y2="1814.10" stroke="#000000" stroke-width="2.5"/>
<line x1="789.70" y1="1914.10" x2="798.20" y2="1914.10" stroke="#000000" stroke-width="2.5"/>
<rect x="794.45" y="1964.10" width="4.5" height="11.60" fill="#000"/>
<rect x="850.78" y="1964.10" width="4.5" height="8.80" fill="#000"/>
<rect x="907.11" y="1964.10" width="4.5" height="11.60" fill="#000"/>
<rect x="963.44" y="1964.10" width="4.5" height="8.80" fill="#000"/>
<rect x="1019.76" y="1964.10" width="4.5" height="11.60" fill="#000"/>
<rect x="1076.09" y="1964.10" width="4.5" height="8.80" fill="#000"/>
<rect x="1132.42" y="1964.10" width="4.5" height="11.60" fill="#000"/>
<rect x="1188.75" y="1964.10" width="4.5" height="11.60" fill="#000"/>
<text transform="translate(782.76,2018.30)" font-size="31" fill="#231f20" stroke="#231f20" stroke-width="0.35">0</text>
<text transform="translate(885.71,2018.30)" font-size="31" fill="#231f20" stroke="#231f20" stroke-width="0.35">80</text>
<text transform="translate(990.07,2018.30)" font-size="31" fill="#231f20" stroke="#231f20" stroke-width="0.35">160</text>
<text transform="translate(1109.55,2018.30)" font-size="31" fill="#231f20" stroke="#231f20" stroke-width="0.35">240</text>
<text transform="translate(753.60,1775.50)" font-size="30.0" fill="#231f20" stroke="#231f20" stroke-width="0.35">20</text>
<text transform="translate(754.28,1873.70)" font-size="30.0" fill="#231f20" stroke="#231f20" stroke-width="0.35">10</text>
<text transform="translate(770.77,1973.10)" font-size="30.0" fill="#231f20" stroke="#231f20" stroke-width="0.35">0</text>
<line x1="794.60" y1="2126.40" x2="794.60" y2="2367.00" stroke="#000000" stroke-width="3.2"/>
<line x1="787.10" y1="2367.00" x2="1190.40" y2="2367.00" stroke="#000000" stroke-width="3.2"/>
<line x1="787.60" y1="2127.60" x2="796.10" y2="2127.60" stroke="#000000" stroke-width="2.5"/>
<line x1="787.60" y1="2247.60" x2="796.10" y2="2247.60" stroke="#000000" stroke-width="2.5"/>
<line x1="787.60" y1="2366.60" x2="796.10" y2="2366.60" stroke="#000000" stroke-width="2.5"/>
<line x1="787.60" y1="2187.60" x2="796.10" y2="2187.60" stroke="#000000" stroke-width="2.5"/>
<line x1="787.60" y1="2307.30" x2="796.10" y2="2307.30" stroke="#000000" stroke-width="2.5"/>
<rect x="792.35" y="2367.00" width="4.5" height="11.60" fill="#000"/>
<rect x="848.66" y="2367.00" width="4.5" height="8.80" fill="#000"/>
<rect x="904.98" y="2367.00" width="4.5" height="11.60" fill="#000"/>
<rect x="961.29" y="2367.00" width="4.5" height="8.80" fill="#000"/>
<rect x="1017.61" y="2367.00" width="4.5" height="11.60" fill="#000"/>
<rect x="1073.92" y="2367.00" width="4.5" height="8.80" fill="#000"/>
<rect x="1130.24" y="2367.00" width="4.5" height="11.60" fill="#000"/>
<rect x="1186.55" y="2367.00" width="4.5" height="11.60" fill="#000"/>
<text transform="translate(784.76,2419.30)" font-size="31" fill="#231f20" stroke="#231f20" stroke-width="0.35">0</text>
<text transform="translate(887.31,2419.30)" font-size="31" fill="#231f20" stroke="#231f20" stroke-width="0.35">80</text>
<text transform="translate(991.77,2419.30)" font-size="31" fill="#231f20" stroke="#231f20" stroke-width="0.35">160</text>
<text transform="translate(1111.25,2419.30)" font-size="31" fill="#231f20" stroke="#231f20" stroke-width="0.35">240</text>
<text transform="translate(709.27,2138.60)" font-size="30.0" fill="#231f20" stroke="#231f20" stroke-width="0.35">0.008</text>
<text transform="translate(705.40,2260.60)" font-size="30.0" fill="#231f20" stroke="#231f20" stroke-width="0.35">0.004</text>
<text transform="translate(768.72,2373.60)" font-size="30.0" fill="#231f20" stroke="#231f20" stroke-width="0.35">0</text>
<text transform="translate(76.40,303.33) rotate(-90) scale(0.9800,1.0000)" font-size="31.8" fill="#231f20" stroke="#231f20" stroke-width="0.35">pERK</text>
<text transform="translate(111.70,345.07) rotate(-90) scale(1.0302,1.0000)" font-size="31.8" fill="#231f20" stroke="#231f20" stroke-width="0.35">(% control)</text>
<text transform="translate(74.30,577.54) rotate(-90) scale(0.9862,1.0000)" font-size="31.8" fill="#231f20" stroke="#231f20" stroke-width="0.35">pRSK</text>
<text transform="translate(109.40,611.68) rotate(-90) scale(0.9855,1.0000)" font-size="31.8" fill="#231f20" stroke="#231f20" stroke-width="0.35">(% control)</text>
<text transform="translate(80.40,904.92) rotate(-90) scale(0.9752,1.0000)" font-size="31.8" fill="#231f20" stroke="#231f20" stroke-width="0.35">p-p38 MAPK</text>
<text transform="translate(115.30,892.28) rotate(-90) scale(0.9841,1.0000)" font-size="31.8" fill="#231f20" stroke="#231f20" stroke-width="0.35">(% control)</text>
<text transform="translate(80.40,1098.81) rotate(-90) scale(0.9848,1.0000)" font-size="31.8" fill="#231f20" stroke="#231f20" stroke-width="0.35">PKAc</text>
<text transform="translate(115.30,1134.88) rotate(-90) scale(0.9875,1.0000)" font-size="31.8" fill="#231f20" stroke="#231f20" stroke-width="0.35">(% control)</text>
<text transform="translate(116.90,1383.50) rotate(-90) scale(1.0038,1.0000)" font-size="32.2" fill="#231f20" stroke="#231f20" stroke-width="0.35">pCREB1 (nM)</text>
<text transform="translate(113.70,1674.05) rotate(-90) scale(1.0001,1.0000)" font-size="31.6" fill="#231f20" stroke="#231f20" stroke-width="0.35">pCREB2</text>
<text transform="translate(123.50,1551.17) rotate(-90) scale(1.0027,1.0000)" font-size="17.9" fill="#231f20" stroke="#231f20" stroke-width="0.35">p38</text>
<text transform="translate(113.70,1515.10) rotate(-90)" font-size="31.6" fill="#231f20" stroke="#231f20" stroke-width="0.35">(nM)</text>
<text transform="translate(115.60,1931.69) rotate(-90) scale(0.9801,1.0000)" font-size="32.2" fill="#231f20" stroke="#231f20" stroke-width="0.35">TBL (nM)</text>
<text transform="translate(106.00,2295.74) rotate(-90) scale(0.9998,1.0000)" font-size="31.4" fill="#231f20" stroke="#231f20" stroke-width="0.35">inducer</text>
<path d="M207.50,270.00 C239.58,270.18 334.58,270.70 400.00,271.10 C465.42,271.50 566.67,272.18 600.00,272.40" fill="none" stroke="#7d7d7d" stroke-width="2.8" stroke-linecap="round" stroke-linejoin="round" stroke-dasharray="9.2 9.2"/>
<path d="M207.50,272.30 C208.75,272.23 212.50,272.17 215.00,271.90 C217.50,271.63 219.98,271.90 222.50,270.70 C225.02,269.50 227.83,266.88 230.10,264.70 C232.37,262.52 234.27,260.03 236.10,257.60 C237.93,255.17 239.60,252.52 241.10,250.10 C242.60,247.68 243.77,245.60 245.10,243.10 C246.43,240.60 247.77,237.87 249.10,235.10 C250.43,232.33 251.68,229.55 253.10,226.50 C254.52,223.45 256.20,219.58 257.60,216.80 C259.00,214.02 260.13,211.90 261.50,209.80 C262.87,207.70 264.15,205.67 265.80,204.20 C267.45,202.73 269.27,201.20 271.40,201.00 C273.53,200.80 275.73,201.22 278.60,203.00 C281.47,204.78 284.98,208.15 288.60,211.70 C292.22,215.25 296.12,220.12 300.30,224.30 C304.48,228.48 309.52,233.18 313.70,236.80 C317.88,240.42 321.50,243.82 325.40,246.00 C329.30,248.18 332.92,249.07 337.10,249.90 C341.28,250.73 345.48,250.75 350.50,251.00 C355.52,251.25 358.95,251.25 367.20,251.40 C375.45,251.55 377.87,251.38 400.00,251.90 C422.13,252.42 466.67,253.35 500.00,254.50 C533.33,255.65 583.33,258.08 600.00,258.80" fill="none" stroke="#dc2628" stroke-width="4.2" stroke-linecap="round" stroke-linejoin="round"/>
<path d="M207.50,271.10 C209.42,270.87 215.58,270.68 219.00,269.70 C222.42,268.72 224.82,267.38 228.00,265.20 C231.18,263.02 234.42,260.37 238.10,256.60 C241.78,252.83 246.08,247.20 250.10,242.60 C254.12,238.00 258.38,232.52 262.20,229.00 C266.02,225.48 269.62,223.17 273.00,221.50 C276.38,219.83 279.62,219.18 282.50,219.00 C285.38,218.82 287.33,219.23 290.30,220.40 C293.27,221.57 296.40,223.97 300.30,226.00 C304.20,228.03 309.23,230.23 313.70,232.60 C318.17,234.97 322.37,237.97 327.10,240.20 C331.83,242.43 336.80,244.67 342.10,246.00 C347.40,247.33 351.93,247.72 358.90,248.20 C365.87,248.68 377.05,248.73 383.90,248.90 C390.75,249.07 380.65,248.68 400.00,249.20 C419.35,249.72 466.67,250.87 500.00,252.00 C533.33,253.13 583.33,255.33 600.00,256.00" fill="none" stroke="#000000" stroke-width="4.6" stroke-linecap="round" stroke-linejoin="round" stroke-dasharray="8.8 9.3"/>
<path d="M207.40,526.00 C207.83,524.00 208.90,517.67 210.00,514.00 C211.10,510.33 212.77,505.33 214.00,504.00 C215.23,502.67 216.17,503.55 217.40,506.00 C218.63,508.45 220.18,518.27 221.40,518.70 C222.62,519.13 223.47,512.17 224.70,508.60 C225.93,505.03 227.57,499.07 228.80,497.30 C230.03,495.53 231.10,497.00 232.10,498.00 C233.10,499.00 234.02,503.75 234.80,503.30 C235.58,502.85 235.92,499.32 236.80,495.30 C237.68,491.28 238.88,484.12 240.10,479.20 C241.32,474.28 242.75,470.03 244.10,465.80 C245.45,461.57 246.97,457.03 248.20,453.80 C249.43,450.57 250.40,447.63 251.50,446.40 C252.60,445.17 253.57,446.95 254.80,446.40 C256.03,445.85 257.33,445.22 258.90,443.10 C260.47,440.98 262.42,436.42 264.20,433.70 C265.98,430.98 267.93,428.13 269.60,426.80 C271.27,425.47 272.65,425.33 274.20,425.70 C275.75,426.07 277.33,427.55 278.90,429.00 C280.47,430.45 282.25,433.95 283.60,434.40 C284.95,434.85 286.10,433.27 287.00,431.70 C287.90,430.13 288.12,426.00 289.00,425.00 C289.88,424.00 291.30,424.47 292.30,425.70 C293.30,426.93 294.10,429.50 295.00,432.40 C295.90,435.30 296.82,439.08 297.70,443.10 C298.58,447.12 298.97,452.48 300.30,456.50 C301.63,460.52 303.47,463.87 305.70,467.20 C307.93,470.53 311.03,473.05 313.70,476.50 C316.37,479.95 319.25,485.00 321.70,487.90 C324.15,490.80 325.50,492.33 328.40,493.90 C331.30,495.47 333.83,496.38 339.10,497.30 C344.37,498.22 336.52,498.03 360.00,499.40 C383.48,500.77 440.00,503.45 480.00,505.50 C520.00,507.55 580.00,510.67 600.00,511.70" fill="none" stroke="#dc2628" stroke-width="4.2" stroke-linecap="round" stroke-linejoin="round"/>
<path d="M207.40,528.70 C207.73,526.47 208.52,519.08 209.40,515.30 C210.28,511.52 211.48,507.12 212.70,506.00 C213.92,504.88 215.37,506.48 216.70,508.60 C218.03,510.72 219.02,516.68 220.70,518.70 C222.38,520.72 224.45,521.37 226.80,520.70 C229.15,520.03 233.02,518.50 234.80,514.70 C236.58,510.90 236.62,502.70 237.50,497.90 C238.38,493.10 239.00,488.78 240.10,485.90 C241.20,483.02 242.32,480.48 244.10,480.60 C245.88,480.72 248.57,486.83 250.80,486.60 C253.03,486.37 255.48,482.67 257.50,479.20 C259.52,475.73 261.55,470.48 262.90,465.80 C264.25,461.12 264.60,455.00 265.60,451.10 C266.60,447.20 267.80,443.95 268.90,442.40 C270.00,440.85 270.97,440.57 272.20,441.80 C273.43,443.03 274.52,447.68 276.30,449.80 C278.08,451.92 280.68,453.50 282.90,454.50 C285.12,455.50 287.92,456.82 289.60,455.80 C291.28,454.78 291.88,451.08 293.00,448.40 C294.12,445.72 295.18,440.92 296.30,439.70 C297.42,438.48 298.47,438.75 299.70,441.10 C300.93,443.45 302.48,449.57 303.70,453.80 C304.92,458.03 305.12,463.27 307.00,466.50 C308.88,469.73 312.98,472.87 315.00,473.20 C317.02,473.53 317.75,470.17 319.10,468.50 C320.45,466.83 321.65,463.87 323.10,463.20 C324.55,462.53 326.47,462.72 327.80,464.50 C329.13,466.28 329.88,470.55 331.10,473.90 C332.32,477.25 333.53,481.93 335.10,484.60 C336.67,487.27 338.05,488.45 340.50,489.90 C342.95,491.35 346.55,492.45 349.80,493.30 C353.05,494.15 338.30,493.55 360.00,495.00 C381.70,496.45 440.17,499.67 480.00,502.00 C519.83,504.33 579.17,507.83 599.00,509.00" fill="none" stroke="#000000" stroke-width="4.6" stroke-linecap="round" stroke-linejoin="round" stroke-dasharray="8.8 9.3"/>
<path d="M206.70,807.00 C207.25,808.10 208.75,811.52 210.00,813.60 C211.25,815.68 212.80,819.22 214.20,819.50 C215.60,819.78 217.00,817.25 218.40,815.30 C219.80,813.35 221.07,808.22 222.60,807.80 C224.13,807.38 226.07,813.50 227.60,812.80 C229.13,812.10 230.55,806.80 231.80,803.60 C233.05,800.40 233.72,794.72 235.10,793.60 C236.48,792.48 238.42,796.20 240.10,796.90 C241.78,797.60 243.52,798.63 245.20,797.80 C246.88,796.97 248.82,795.12 250.20,791.90 C251.58,788.68 252.38,783.80 253.50,778.50 C254.62,773.20 255.50,765.95 256.90,760.10 C258.30,754.25 260.23,747.57 261.90,743.40 C263.57,739.23 264.95,736.77 266.90,735.10 C268.85,733.43 271.37,733.27 273.60,733.40 C275.83,733.53 278.35,734.52 280.30,735.90 C282.25,737.28 284.05,738.78 285.30,741.70 C286.55,744.62 286.83,749.22 287.80,753.40 C288.77,757.58 289.98,764.28 291.10,766.80 C292.22,769.32 293.38,769.88 294.50,768.50 C295.62,767.12 296.27,760.87 297.80,758.50 C299.33,756.13 301.33,754.72 303.70,754.30 C306.07,753.88 308.93,754.47 312.00,756.00 C315.07,757.53 318.75,760.87 322.10,763.50 C325.45,766.13 328.77,769.30 332.10,771.80 C335.43,774.30 337.63,776.55 342.10,778.50 C346.57,780.45 353.32,782.23 358.90,783.50 C364.48,784.77 369.83,785.38 375.60,786.10 C381.37,786.82 379.65,787.08 393.50,787.80 C407.35,788.52 424.28,789.17 458.70,790.40 C493.12,791.63 576.45,794.40 600.00,795.20" fill="none" stroke="#dc2628" stroke-width="4.2" stroke-linecap="round" stroke-linejoin="round"/>
<path d="M206.70,805.30 C207.25,806.68 209.03,811.52 210.00,813.60 C210.97,815.68 211.38,817.80 212.50,817.80 C213.62,817.80 215.17,816.25 216.70,813.60 C218.23,810.95 219.88,805.23 221.70,801.90 C223.52,798.57 225.92,795.82 227.60,793.60 C229.28,791.38 230.27,788.32 231.80,788.60 C233.33,788.88 235.13,793.63 236.80,795.30 C238.47,796.97 240.27,800.00 241.80,798.60 C243.33,797.20 244.60,790.80 246.00,786.90 C247.40,783.00 248.67,778.82 250.20,775.20 C251.73,771.58 253.40,767.43 255.20,765.20 C257.00,762.97 259.33,760.97 261.00,761.80 C262.67,762.63 263.93,767.68 265.20,770.20 C266.47,772.72 267.48,776.90 268.60,776.90 C269.72,776.90 270.65,773.27 271.90,770.20 C273.15,767.13 274.43,761.98 276.10,758.50 C277.77,755.02 280.08,751.12 281.90,749.30 C283.72,747.48 285.47,746.92 287.00,747.60 C288.53,748.28 289.72,750.20 291.10,753.40 C292.48,756.60 293.77,764.28 295.30,766.80 C296.83,769.32 298.62,769.75 300.30,768.50 C301.98,767.25 303.45,761.67 305.40,759.30 C307.35,756.93 309.92,754.85 312.00,754.30 C314.08,753.75 316.22,753.63 317.90,756.00 C319.58,758.37 320.57,764.75 322.10,768.50 C323.63,772.25 325.43,777.95 327.10,778.50 C328.77,779.05 330.15,774.02 332.10,771.80 C334.05,769.58 336.28,766.03 338.80,765.20 C341.32,764.37 343.17,765.50 347.20,766.80 C351.23,768.10 357.47,770.68 363.00,773.00 C368.53,775.32 374.60,778.87 380.40,780.70 C386.20,782.53 388.37,783.03 397.80,784.00 C407.23,784.97 419.63,785.72 437.00,786.50 C454.37,787.28 475.00,787.68 502.00,788.70 C529.00,789.72 582.83,791.95 599.00,792.60" fill="none" stroke="#000000" stroke-width="4.6" stroke-linecap="round" stroke-linejoin="round" stroke-dasharray="8.8 9.3"/>
<path d="M208.70,1018.20 C209.03,1014.63 209.82,1002.05 210.70,996.80 C211.58,991.55 212.88,988.05 214.00,986.70 C215.12,985.35 216.17,985.68 217.40,988.70 C218.63,991.72 220.28,1001.23 221.40,1004.80 C222.52,1008.37 223.20,1012.12 224.10,1010.10 C225.00,1008.08 225.92,996.82 226.80,992.70 C227.68,988.58 228.40,985.83 229.40,985.40 C230.40,984.97 231.78,986.42 232.80,990.10 C233.82,993.78 234.62,1004.83 235.50,1007.50 C236.38,1010.17 237.10,1009.68 238.10,1006.10 C239.10,1002.52 240.27,989.68 241.50,986.00 C242.73,982.32 244.05,984.33 245.50,984.00 C246.95,983.67 248.87,983.22 250.20,984.00 C251.53,984.78 252.50,986.13 253.50,988.70 C254.50,991.27 255.30,996.27 256.20,999.40 C257.10,1002.53 257.78,1005.72 258.90,1007.50 C260.02,1009.28 261.12,1009.43 262.90,1010.10 C264.68,1010.77 267.15,1010.93 269.60,1011.50 C272.05,1012.07 275.38,1012.95 277.60,1013.50 C279.82,1014.05 281.57,1016.48 282.90,1014.80 C284.23,1013.12 284.58,1007.75 285.60,1003.40 C286.62,999.05 287.88,991.70 289.00,988.70 C290.12,985.70 291.18,985.17 292.30,985.40 C293.42,985.63 294.58,987.32 295.70,990.10 C296.82,992.88 297.78,998.43 299.00,1002.10 C300.22,1005.77 301.22,1010.10 303.00,1012.10 C304.78,1014.10 306.80,1013.65 309.70,1014.10 C312.60,1014.55 316.38,1014.45 320.40,1014.80 C324.42,1015.15 327.20,1015.78 333.80,1016.20 C340.40,1016.62 340.63,1017.00 360.00,1017.30 C379.37,1017.60 410.00,1017.70 450.00,1018.00 C490.00,1018.30 575.00,1018.92 600.00,1019.10" fill="none" stroke="#dc2628" stroke-width="4.2" stroke-linecap="round" stroke-linejoin="round"/>
<path d="M208.70,1019.50 C208.92,1016.15 209.22,1004.53 210.00,999.40 C210.78,994.27 212.28,990.25 213.40,988.70 C214.52,987.15 215.58,987.42 216.70,990.10 C217.82,992.78 218.98,1000.80 220.10,1004.80 C221.22,1008.80 221.95,1012.10 223.40,1014.10 C224.85,1016.10 226.68,1016.45 228.80,1016.80 C230.92,1017.15 234.55,1019.53 236.10,1016.20 C237.65,1012.87 237.20,1001.48 238.10,996.80 C239.00,992.12 240.27,989.22 241.50,988.10 C242.73,986.98 244.38,987.32 245.50,990.10 C246.62,992.88 247.08,1001.02 248.20,1004.80 C249.32,1008.58 250.42,1010.90 252.20,1012.80 C253.98,1014.70 256.90,1015.98 258.90,1016.20 C260.90,1016.42 262.87,1017.57 264.20,1014.10 C265.53,1010.63 265.78,999.73 266.90,995.40 C268.02,991.07 269.57,988.10 270.90,988.10 C272.23,988.10 273.67,991.95 274.90,995.40 C276.13,998.85 276.97,1005.57 278.30,1008.80 C279.63,1012.03 280.78,1013.68 282.90,1014.80 C285.02,1015.92 289.22,1018.50 291.00,1015.50 C292.78,1012.50 292.72,1000.93 293.60,996.80 C294.48,992.67 294.95,991.27 296.30,990.70 C297.65,990.13 300.37,991.05 301.70,993.40 C303.03,995.75 303.42,1002.02 304.30,1004.80 C305.18,1007.58 305.65,1008.55 307.00,1010.10 C308.35,1011.65 310.62,1013.43 312.40,1014.10 C314.18,1014.77 316.37,1015.88 317.70,1014.10 C319.03,1012.32 319.50,1006.97 320.40,1003.40 C321.30,999.83 322.10,995.25 323.10,992.70 C324.10,990.15 325.18,987.65 326.40,988.10 C327.62,988.55 329.40,992.85 330.40,995.40 C331.40,997.95 331.38,1000.50 332.40,1003.40 C333.42,1006.30 334.48,1010.90 336.50,1012.80 C338.52,1014.70 340.58,1014.27 344.50,1014.80 C348.42,1015.33 344.58,1015.28 360.00,1016.00 C375.42,1016.72 397.17,1018.28 437.00,1019.10 C476.83,1019.92 572.00,1020.60 599.00,1020.90" fill="none" stroke="#000000" stroke-width="4.6" stroke-linecap="round" stroke-linejoin="round" stroke-dasharray="8.8 9.3"/>
<path d="M204.80,1352.60 C205.30,1349.58 206.67,1341.53 207.80,1334.50 C208.93,1327.47 210.35,1316.42 211.60,1310.40 C212.85,1304.38 213.93,1301.42 215.30,1298.40 C216.67,1295.38 218.30,1295.82 219.80,1292.30 C221.30,1288.78 222.78,1281.80 224.30,1277.30 C225.82,1272.80 227.38,1267.55 228.90,1265.30 C230.42,1263.05 232.03,1265.32 233.40,1263.80 C234.77,1262.28 235.72,1259.72 237.10,1256.20 C238.48,1252.68 240.18,1247.22 241.70,1242.70 C243.22,1238.18 244.70,1232.87 246.20,1229.10 C247.70,1225.33 249.20,1221.85 250.70,1220.10 C252.20,1218.35 253.45,1219.10 255.20,1218.60 C256.95,1218.10 258.93,1217.85 261.20,1217.10 C263.47,1216.35 266.28,1214.85 268.80,1214.10 C271.32,1213.35 274.05,1212.60 276.30,1212.60 C278.55,1212.60 280.55,1215.10 282.30,1214.10 C284.05,1213.10 285.17,1208.73 286.80,1206.60 C288.43,1204.47 290.35,1201.55 292.10,1201.30 C293.85,1201.05 295.42,1202.97 297.30,1205.10 C299.18,1207.23 300.88,1210.35 303.40,1214.10 C305.92,1217.85 309.15,1222.83 312.40,1227.60 C315.65,1232.37 319.38,1237.93 322.90,1242.70 C326.42,1247.47 329.73,1252.18 333.50,1256.20 C337.27,1260.22 340.98,1263.62 345.50,1266.80 C350.02,1269.98 354.70,1272.87 360.60,1275.30 C366.50,1277.73 372.28,1279.17 380.90,1281.40 C389.52,1283.63 398.37,1286.27 412.30,1288.70 C426.23,1291.13 445.35,1293.47 464.50,1296.00 C483.65,1298.53 504.73,1301.22 527.20,1303.90 C549.67,1306.58 587.28,1310.73 599.30,1312.10" fill="none" stroke="#dc2628" stroke-width="4.2" stroke-linecap="round" stroke-linejoin="round"/>
<path d="M204.80,1352.60 C205.17,1350.58 206.00,1345.52 207.00,1340.50 C208.00,1335.48 209.67,1328.27 210.80,1322.50 C211.93,1316.73 212.67,1310.17 213.80,1305.90 C214.93,1301.63 216.35,1298.65 217.60,1296.90 C218.85,1295.15 219.80,1294.65 221.30,1295.40 C222.80,1296.15 224.58,1299.78 226.60,1301.40 C228.62,1303.02 231.65,1306.10 233.40,1305.10 C235.15,1304.10 236.10,1299.78 237.10,1295.40 C238.10,1291.02 238.38,1283.82 239.40,1278.80 C240.42,1273.78 241.82,1268.68 243.20,1265.30 C244.58,1261.92 245.70,1259.77 247.70,1258.50 C249.70,1257.23 252.95,1258.58 255.20,1257.70 C257.45,1256.82 259.57,1255.95 261.20,1253.20 C262.83,1250.45 263.73,1245.47 265.00,1241.20 C266.27,1236.93 267.42,1231.12 268.80,1227.60 C270.18,1224.08 271.55,1220.97 273.30,1220.10 C275.05,1219.23 277.05,1221.40 279.30,1222.40 C281.55,1223.40 284.80,1225.98 286.80,1226.10 C288.80,1226.22 289.55,1225.35 291.30,1223.10 C293.05,1220.85 295.53,1214.73 297.30,1212.60 C299.07,1210.47 300.13,1209.68 301.90,1210.30 C303.67,1210.92 305.90,1213.67 307.90,1216.30 C309.90,1218.93 312.02,1223.72 313.90,1226.10 C315.78,1228.48 317.57,1231.60 319.20,1230.60 C320.83,1229.60 322.07,1222.23 323.70,1220.10 C325.33,1217.97 327.37,1217.42 329.00,1217.80 C330.63,1218.18 331.75,1219.77 333.50,1222.40 C335.25,1225.03 337.25,1229.72 339.50,1233.60 C341.75,1237.48 344.25,1242.18 347.00,1245.70 C349.75,1249.22 352.98,1251.95 356.00,1254.70 C359.02,1257.45 360.95,1259.67 365.10,1262.20 C369.25,1264.73 373.03,1266.70 380.90,1269.90 C388.77,1273.10 398.37,1277.92 412.30,1281.40 C426.23,1284.88 445.35,1287.95 464.50,1290.80 C483.65,1293.65 505.07,1295.97 527.20,1298.50 C549.33,1301.03 585.62,1304.75 597.30,1306.00" fill="none" stroke="#000000" stroke-width="4.6" stroke-linecap="round" stroke-linejoin="round" stroke-dasharray="8.8 9.3"/>
<path d="M205.00,1505.10 C205.70,1505.95 207.80,1507.97 209.20,1510.20 C210.60,1512.43 212.00,1516.70 213.40,1518.50 C214.80,1520.30 216.20,1521.97 217.60,1521.00 C219.00,1520.03 220.42,1514.50 221.80,1512.70 C223.18,1510.90 224.52,1509.93 225.90,1510.20 C227.28,1510.47 228.57,1515.57 230.10,1514.30 C231.63,1513.03 233.57,1504.82 235.10,1502.60 C236.63,1500.38 237.90,1500.30 239.30,1501.00 C240.70,1501.70 241.97,1504.85 243.50,1506.80 C245.03,1508.75 246.97,1511.87 248.50,1512.70 C250.03,1513.53 251.30,1514.18 252.70,1511.80 C254.10,1509.42 255.50,1502.85 256.90,1498.40 C258.30,1493.95 259.43,1488.72 261.10,1485.10 C262.77,1481.48 264.53,1478.65 266.90,1476.70 C269.27,1474.75 272.52,1473.95 275.30,1473.40 C278.08,1472.85 281.52,1472.57 283.60,1473.40 C285.68,1474.23 286.53,1475.90 287.80,1478.40 C289.07,1480.90 289.95,1486.32 291.20,1488.40 C292.45,1490.48 294.05,1491.73 295.30,1490.90 C296.55,1490.07 297.02,1486.05 298.70,1483.40 C300.38,1480.75 302.90,1476.67 305.40,1475.00 C307.90,1473.33 310.92,1473.40 313.70,1473.40 C316.48,1473.40 319.03,1473.75 322.10,1475.00 C325.17,1476.25 328.75,1479.08 332.10,1480.90 C335.45,1482.72 338.57,1484.37 342.20,1485.90 C345.83,1487.43 349.17,1488.88 353.90,1490.10 C358.63,1491.32 363.75,1492.33 370.60,1493.20 C377.45,1494.07 380.62,1494.75 395.00,1495.30 C409.38,1495.85 423.18,1495.75 456.90,1496.50 C490.62,1497.25 573.90,1499.25 597.30,1499.80" fill="none" stroke="#dc2628" stroke-width="4.2" stroke-linecap="round" stroke-linejoin="round"/>
<path d="M205.00,1503.50 C205.85,1504.88 208.28,1509.02 210.10,1511.80 C211.92,1514.58 214.23,1519.63 215.90,1520.20 C217.57,1520.77 218.70,1517.98 220.10,1515.20 C221.50,1512.42 222.92,1506.98 224.30,1503.50 C225.68,1500.02 226.87,1496.25 228.40,1494.30 C229.93,1492.35 231.82,1491.38 233.50,1491.80 C235.18,1492.22 237.12,1494.85 238.50,1496.80 C239.88,1498.75 240.68,1501.83 241.80,1503.50 C242.92,1505.17 243.95,1506.67 245.20,1506.80 C246.45,1506.93 247.92,1506.53 249.30,1504.30 C250.68,1502.07 252.10,1496.33 253.50,1493.40 C254.90,1490.47 256.02,1488.37 257.70,1486.70 C259.38,1485.03 261.78,1482.83 263.60,1483.40 C265.42,1483.97 266.93,1488.02 268.60,1490.10 C270.27,1492.18 271.93,1495.90 273.60,1495.90 C275.27,1495.90 276.93,1492.47 278.60,1490.10 C280.27,1487.73 281.78,1483.93 283.60,1481.70 C285.42,1479.47 287.82,1476.97 289.50,1476.70 C291.18,1476.43 292.17,1477.87 293.70,1480.10 C295.23,1482.33 297.32,1488.02 298.70,1490.10 C300.08,1492.18 300.62,1493.43 302.00,1492.60 C303.38,1491.77 305.05,1487.62 307.00,1485.10 C308.95,1482.58 311.47,1479.18 313.70,1477.50 C315.93,1475.82 318.45,1474.30 320.40,1475.00 C322.35,1475.70 323.87,1478.90 325.40,1481.70 C326.93,1484.50 328.33,1490.27 329.60,1491.80 C330.87,1493.33 331.75,1492.58 333.00,1490.90 C334.25,1489.22 335.57,1483.93 337.10,1481.70 C338.63,1479.47 340.25,1478.47 342.20,1477.50 C344.15,1476.53 346.02,1475.75 348.80,1475.90 C351.58,1476.05 354.43,1476.87 358.90,1478.40 C363.37,1479.93 368.88,1482.92 375.60,1485.10 C382.32,1487.28 392.05,1490.02 399.20,1491.50 C406.35,1492.98 408.88,1493.25 418.50,1494.00 C428.12,1494.75 426.78,1495.25 456.90,1496.00 C487.02,1496.75 575.48,1498.08 599.20,1498.50" fill="none" stroke="#000000" stroke-width="4.6" stroke-linecap="round" stroke-linejoin="round" stroke-dasharray="8.8 9.3"/>
<path d="M207.00,1965.30 C207.50,1964.55 208.87,1964.05 210.00,1960.80 C211.13,1957.55 212.53,1950.57 213.80,1945.80 C215.07,1941.03 216.22,1935.22 217.60,1932.20 C218.98,1929.18 220.85,1929.45 222.10,1927.70 C223.35,1925.95 224.10,1925.72 225.10,1921.70 C226.10,1917.68 227.10,1909.37 228.10,1903.60 C229.10,1897.83 230.10,1890.10 231.10,1887.10 C232.10,1884.10 232.97,1885.23 234.10,1885.60 C235.23,1885.97 236.88,1890.32 237.90,1889.30 C238.92,1888.28 239.32,1885.13 240.20,1879.50 C241.08,1873.87 242.20,1864.02 243.20,1855.50 C244.20,1846.98 245.20,1836.93 246.20,1828.40 C247.20,1819.87 248.20,1810.33 249.20,1804.30 C250.20,1798.27 251.32,1794.33 252.20,1792.20 C253.08,1790.07 253.75,1790.48 254.50,1791.50 C255.25,1792.52 255.83,1793.92 256.70,1798.30 C257.57,1802.68 258.45,1811.78 259.70,1817.80 C260.95,1823.82 262.43,1830.63 264.20,1834.40 C265.97,1838.17 268.28,1839.27 270.30,1840.40 C272.32,1841.53 274.30,1841.07 276.30,1841.20 C278.30,1841.33 280.67,1841.58 282.30,1841.20 C283.93,1840.82 284.85,1843.05 286.10,1838.90 C287.35,1834.75 288.55,1823.82 289.80,1816.30 C291.05,1808.78 292.47,1798.07 293.60,1793.80 C294.73,1789.53 295.47,1789.70 296.60,1790.70 C297.73,1791.70 299.27,1795.53 300.40,1799.80 C301.53,1804.07 302.15,1810.53 303.40,1816.30 C304.65,1822.07 305.90,1827.37 307.90,1834.40 C309.90,1841.43 312.65,1851.23 315.40,1858.50 C318.15,1865.77 320.88,1871.98 324.40,1878.00 C327.92,1884.02 331.98,1889.58 336.50,1894.60 C341.02,1899.62 346.75,1904.62 351.50,1908.10 C356.25,1911.58 360.10,1913.22 365.00,1915.50 C369.90,1917.78 371.28,1919.18 380.90,1921.80 C390.52,1924.42 405.28,1928.23 422.70,1931.20 C440.12,1934.17 464.50,1937.17 485.40,1939.60 C506.30,1942.03 529.12,1944.00 548.10,1945.80 C567.08,1947.60 590.77,1949.63 599.30,1950.40" fill="none" stroke="#dc2628" stroke-width="4.2" stroke-linecap="round" stroke-linejoin="round"/>
<path d="M207.00,1965.30 C208.02,1964.80 211.47,1965.05 213.10,1962.30 C214.73,1959.55 215.68,1953.32 216.80,1948.80 C217.92,1944.28 218.67,1938.47 219.80,1935.20 C220.93,1931.93 222.33,1929.45 223.60,1929.20 C224.87,1928.95 225.90,1931.68 227.40,1933.70 C228.90,1935.72 230.85,1939.53 232.60,1941.30 C234.35,1943.07 236.52,1944.82 237.90,1944.30 C239.28,1943.78 240.02,1941.97 240.90,1938.20 C241.78,1934.43 242.45,1927.97 243.20,1921.70 C243.95,1915.43 244.65,1906.62 245.40,1900.60 C246.15,1894.58 246.82,1889.12 247.70,1885.60 C248.58,1882.08 249.45,1879.50 250.70,1879.50 C251.95,1879.50 253.45,1883.33 255.20,1885.60 C256.95,1887.87 259.32,1892.60 261.20,1893.10 C263.08,1893.60 265.12,1892.37 266.50,1888.60 C267.88,1884.83 268.62,1878.03 269.50,1870.50 C270.38,1862.97 271.05,1850.92 271.80,1843.40 C272.55,1835.88 273.00,1829.92 274.00,1825.40 C275.00,1820.88 276.67,1816.82 277.80,1816.30 C278.93,1815.78 279.67,1818.78 280.80,1822.30 C281.93,1825.82 283.22,1832.63 284.60,1837.40 C285.98,1842.17 287.60,1848.27 289.10,1850.90 C290.60,1853.53 292.35,1854.70 293.60,1853.20 C294.85,1851.70 295.60,1847.05 296.60,1841.90 C297.60,1836.75 298.60,1827.82 299.60,1822.30 C300.60,1816.78 301.47,1811.05 302.60,1808.80 C303.73,1806.55 305.27,1807.05 306.40,1808.80 C307.53,1810.55 308.40,1814.53 309.40,1819.30 C310.40,1824.07 311.15,1831.62 312.40,1837.40 C313.65,1843.18 315.40,1849.37 316.90,1854.00 C318.40,1858.63 320.15,1864.20 321.40,1865.20 C322.65,1866.20 323.40,1863.63 324.40,1860.00 C325.40,1856.37 326.27,1849.17 327.40,1843.40 C328.53,1837.63 329.93,1827.90 331.20,1825.40 C332.47,1822.90 333.75,1824.90 335.00,1828.40 C336.25,1831.90 337.32,1839.88 338.70,1846.40 C340.08,1852.92 341.42,1860.97 343.30,1867.50 C345.18,1874.03 347.22,1880.38 350.00,1885.60 C352.78,1890.82 356.58,1895.38 360.00,1898.80 C363.42,1902.22 365.27,1903.32 370.50,1906.10 C375.73,1908.88 380.95,1912.37 391.40,1915.50 C401.85,1918.63 417.53,1922.10 433.20,1924.90 C448.87,1927.70 466.25,1929.85 485.40,1932.30 C504.55,1934.75 529.50,1937.48 548.10,1939.60 C566.70,1941.72 588.85,1944.10 597.00,1945.00" fill="none" stroke="#000000" stroke-width="4.6" stroke-linecap="round" stroke-linejoin="round" stroke-dasharray="8.8 9.3"/>
<path d="M204.80,2368.20 C206.93,2368.20 214.72,2369.50 217.60,2368.20 C220.48,2366.90 220.60,2363.47 222.10,2360.40 C223.60,2357.33 225.22,2351.93 226.60,2349.80 C227.98,2347.67 229.27,2347.10 230.40,2347.60 C231.53,2348.10 232.53,2353.43 233.40,2352.80 C234.27,2352.17 234.85,2349.57 235.60,2343.80 C236.35,2338.03 236.88,2326.22 237.90,2318.20 C238.92,2310.18 240.32,2303.22 241.70,2295.70 C243.08,2288.18 244.83,2280.63 246.20,2273.10 C247.57,2265.57 248.90,2255.15 249.90,2250.50 C250.90,2245.85 251.43,2245.20 252.20,2245.20 C252.97,2245.20 253.75,2245.85 254.50,2250.50 C255.25,2255.15 255.95,2264.32 256.70,2273.10 C257.45,2281.88 258.12,2295.43 259.00,2303.20 C259.88,2310.97 260.63,2316.18 262.00,2319.70 C263.37,2323.22 265.07,2323.78 267.20,2324.30 C269.33,2324.82 272.28,2322.80 274.80,2322.80 C277.32,2322.80 280.05,2323.55 282.30,2324.30 C284.55,2325.05 286.92,2329.57 288.30,2327.30 C289.68,2325.03 289.97,2323.50 290.60,2310.70 C291.23,2297.90 291.48,2271.82 292.10,2250.50 C292.72,2229.18 293.68,2197.35 294.30,2182.80 C294.92,2168.25 295.17,2167.35 295.80,2163.20 C296.43,2159.05 297.33,2157.90 298.10,2157.90 C298.87,2157.90 299.77,2159.05 300.40,2163.20 C301.03,2167.35 301.40,2170.75 301.90,2182.80 C302.40,2194.85 302.78,2216.68 303.40,2235.50 C304.02,2254.32 304.73,2280.65 305.60,2295.70 C306.47,2310.75 307.22,2318.53 308.60,2325.80 C309.98,2333.07 311.50,2335.55 313.90,2339.30 C316.30,2343.05 318.98,2345.28 323.00,2348.30 C327.02,2351.32 331.83,2355.32 338.00,2357.40 C344.17,2359.48 351.10,2359.72 360.00,2360.80 C368.90,2361.88 379.90,2362.97 391.40,2363.90 C402.90,2364.83 414.23,2365.80 429.00,2366.40 C443.77,2367.00 451.50,2367.28 480.00,2367.50 C508.50,2367.72 580.00,2367.67 600.00,2367.70" fill="none" stroke="#dc2628" stroke-width="4.2" stroke-linecap="round" stroke-linejoin="round"/>
<path d="M204.80,2367.90 C206.93,2367.90 213.22,2368.40 217.60,2367.90 C221.98,2367.40 228.10,2366.90 231.10,2364.90 C234.10,2362.90 234.47,2360.92 235.60,2355.90 C236.73,2350.88 237.13,2341.33 237.90,2334.80 C238.67,2328.27 239.32,2320.97 240.20,2316.70 C241.08,2312.43 242.20,2310.70 243.20,2309.20 C244.20,2307.70 245.33,2305.95 246.20,2307.70 C247.07,2309.45 247.65,2314.68 248.40,2319.70 C249.15,2324.72 249.68,2333.03 250.70,2337.80 C251.72,2342.57 253.00,2346.17 254.50,2348.30 C256.00,2350.43 257.70,2350.35 259.70,2350.60 C261.70,2350.85 265.12,2353.93 266.50,2349.80 C267.88,2345.67 267.62,2337.33 268.00,2325.80 C268.38,2314.27 268.42,2294.40 268.80,2280.60 C269.18,2266.80 269.68,2252.28 270.30,2243.00 C270.92,2233.72 271.75,2229.17 272.50,2224.90 C273.25,2220.63 273.92,2217.40 274.80,2217.40 C275.68,2217.40 277.05,2219.38 277.80,2224.90 C278.55,2230.42 278.68,2238.70 279.30,2250.50 C279.92,2262.30 280.62,2283.65 281.50,2295.70 C282.38,2307.75 283.22,2316.53 284.60,2322.80 C285.98,2329.07 287.68,2330.55 289.80,2333.30 C291.92,2336.05 295.78,2341.82 297.30,2339.30 C298.82,2336.78 298.38,2333.00 298.90,2318.20 C299.42,2303.40 299.78,2268.05 300.40,2250.50 C301.02,2232.95 301.85,2221.93 302.60,2212.90 C303.35,2203.87 304.15,2199.07 304.90,2196.30 C305.65,2193.53 306.35,2193.28 307.10,2196.30 C307.85,2199.32 308.65,2202.85 309.40,2214.40 C310.15,2225.95 310.85,2249.55 311.60,2265.60 C312.35,2281.65 313.02,2299.92 313.90,2310.70 C314.78,2321.48 315.38,2325.78 316.90,2330.30 C318.42,2334.82 320.98,2336.55 323.00,2337.80 C325.02,2339.05 327.63,2342.32 329.00,2337.80 C330.37,2333.28 330.58,2321.48 331.20,2310.70 C331.82,2299.92 332.20,2282.13 332.70,2273.10 C333.20,2264.07 333.45,2260.02 334.20,2256.50 C334.95,2252.98 336.32,2251.75 337.20,2252.00 C338.08,2252.25 338.75,2253.23 339.50,2258.00 C340.25,2262.77 340.95,2270.57 341.70,2280.60 C342.45,2290.63 343.12,2308.17 344.00,2318.20 C344.88,2328.23 345.25,2335.53 347.00,2340.80 C348.75,2346.07 351.48,2347.28 354.50,2349.80 C357.52,2352.32 361.68,2354.62 365.10,2355.90 C368.52,2357.18 370.62,2357.03 375.00,2357.50 C379.38,2357.97 383.45,2357.98 391.40,2358.70 C399.35,2359.42 410.52,2360.87 422.70,2361.80 C434.88,2362.73 447.08,2363.67 464.50,2364.30 C481.92,2364.93 505.25,2365.25 527.20,2365.60 C549.15,2365.95 584.70,2366.27 596.20,2366.40" fill="none" stroke="#231f20" stroke-width="4.6" stroke-linecap="round" stroke-linejoin="round" stroke-dasharray="8.8 9.3"/>
<path d="M798.40,268.60 C830.33,268.88 924.73,269.82 990.00,270.30 C1055.27,270.78 1156.67,271.30 1190.00,271.50" fill="none" stroke="#7d7d7d" stroke-width="2.8" stroke-linecap="round" stroke-linejoin="round" stroke-dasharray="9.2 9.2"/>
<path d="M798.40,269.40 C799.78,269.27 803.63,269.28 806.70,268.60 C809.77,267.92 813.73,267.25 816.80,265.30 C819.87,263.35 822.52,259.95 825.10,256.90 C827.68,253.85 829.60,251.02 832.30,247.00 C835.00,242.98 838.43,236.77 841.30,232.80 C844.17,228.83 846.75,225.50 849.50,223.20 C852.25,220.90 855.35,219.65 857.80,219.00 C860.25,218.35 861.80,218.53 864.20,219.30 C866.60,220.07 869.52,221.80 872.20,223.60 C874.88,225.40 877.55,227.48 880.30,230.10 C883.05,232.72 886.18,236.65 888.70,239.30 C891.22,241.95 892.90,244.32 895.40,246.00 C897.90,247.68 900.37,248.65 903.70,249.40 C907.03,250.15 910.67,250.32 915.40,250.50 C920.13,250.68 925.13,250.60 932.10,250.50 C939.07,250.40 947.55,250.05 957.20,249.90 C966.85,249.75 951.20,248.00 990.00,249.60 C1028.80,251.20 1156.67,257.85 1190.00,259.50" fill="none" stroke="#2673b8" stroke-width="4.2" stroke-linecap="round" stroke-linejoin="round"/>
<path d="M798.40,271.10 C799.78,271.18 803.92,272.02 806.70,271.60 C809.48,271.18 812.32,270.35 815.10,268.60 C817.88,266.85 820.62,263.88 823.40,261.10 C826.18,258.32 829.00,254.55 831.80,251.90 C834.60,249.25 837.42,246.73 840.20,245.20 C842.98,243.67 845.72,243.12 848.50,242.70 C851.28,242.28 853.83,242.15 856.90,242.70 C859.97,243.25 863.28,244.47 866.90,246.00 C870.52,247.53 874.97,250.08 878.60,251.90 C882.23,253.72 885.90,255.93 888.70,256.90 C891.50,257.87 892.90,258.12 895.40,257.70 C897.90,257.28 900.65,256.07 903.70,254.40 C906.75,252.73 910.35,249.30 913.70,247.70 C917.05,246.10 920.73,245.17 923.80,244.80 C926.87,244.43 929.32,244.88 932.10,245.50 C934.88,246.12 937.70,247.43 940.50,248.50 C943.30,249.57 944.72,251.18 948.90,251.90 C953.08,252.62 958.75,252.62 965.60,252.80 C972.45,252.98 952.60,251.72 990.00,253.00 C1027.40,254.28 1156.67,259.25 1190.00,260.50" fill="none" stroke="#dc2628" stroke-width="4.2" stroke-linecap="round" stroke-linejoin="round"/>
<path d="M798.40,267.80 C799.78,267.93 803.92,268.88 806.70,268.60 C809.48,268.32 812.32,267.63 815.10,266.10 C817.88,264.57 820.33,262.05 823.40,259.40 C826.47,256.75 830.43,252.85 833.50,250.20 C836.57,247.55 839.02,245.03 841.80,243.50 C844.58,241.97 847.13,241.28 850.20,241.00 C853.27,240.72 856.85,241.25 860.20,241.80 C863.55,242.35 867.23,243.73 870.30,244.30 C873.37,244.87 875.82,245.62 878.60,245.20 C881.38,244.78 883.93,242.92 887.00,241.80 C890.07,240.68 893.93,238.92 897.00,238.50 C900.07,238.08 902.62,238.75 905.40,239.30 C908.18,239.85 910.92,240.68 913.70,241.80 C916.48,242.92 919.03,244.73 922.10,246.00 C925.17,247.27 927.63,248.48 932.10,249.40 C936.57,250.32 943.32,251.13 948.90,251.50 C954.48,251.87 958.75,251.52 965.60,251.60 C972.45,251.68 952.60,250.52 990.00,252.00 C1027.40,253.48 1156.67,259.08 1190.00,260.50" fill="none" stroke="#000000" stroke-width="4.6" stroke-linecap="round" stroke-linejoin="round" stroke-dasharray="8.8 9.3"/>
<path d="M798.40,528.60 C798.82,526.65 799.93,520.80 800.90,516.90 C801.87,513.00 803.08,507.43 804.20,505.20 C805.32,502.97 806.48,502.93 807.60,503.50 C808.72,504.07 809.65,506.08 810.90,508.60 C812.15,511.12 813.85,516.65 815.10,518.60 C816.35,520.55 817.43,521.70 818.40,520.30 C819.37,518.90 820.07,514.10 820.90,510.20 C821.73,506.30 822.28,500.52 823.40,496.90 C824.52,493.28 826.20,489.62 827.60,488.50 C829.00,487.38 830.53,489.37 831.80,490.20 C833.07,491.03 834.08,493.78 835.20,493.50 C836.32,493.22 836.83,491.28 838.50,488.50 C840.17,485.72 842.70,480.98 845.20,476.80 C847.70,472.62 850.72,466.60 853.50,463.40 C856.28,460.20 859.38,458.30 861.90,457.60 C864.42,456.90 866.37,457.67 868.60,459.20 C870.83,460.73 872.80,463.58 875.30,466.80 C877.80,470.02 881.10,474.88 883.60,478.50 C886.10,482.12 888.07,485.30 890.30,488.50 C892.53,491.70 894.77,495.47 897.00,497.70 C899.23,499.93 900.92,500.98 903.70,501.90 C906.48,502.82 908.97,503.07 913.70,503.20 C918.43,503.33 924.85,502.87 932.10,502.70 C939.35,502.53 947.55,502.02 957.20,502.20 C966.85,502.38 951.20,501.67 990.00,503.80 C1028.80,505.93 1156.67,513.13 1190.00,515.00" fill="none" stroke="#2673b8" stroke-width="4.2" stroke-linecap="round" stroke-linejoin="round"/>
<path d="M797.50,528.60 C797.92,526.10 798.88,517.78 800.00,513.60 C801.12,509.42 802.93,504.75 804.20,503.50 C805.47,502.25 806.48,503.87 807.60,506.10 C808.72,508.33 809.65,514.27 810.90,516.90 C812.15,519.53 813.57,521.33 815.10,521.90 C816.63,522.47 818.15,521.68 820.10,520.30 C822.05,518.92 824.28,516.40 826.80,513.60 C829.32,510.80 832.42,506.57 835.20,503.50 C837.98,500.43 840.72,497.28 843.50,495.20 C846.28,493.12 849.12,491.83 851.90,491.00 C854.68,490.17 857.42,489.78 860.20,490.20 C862.98,490.62 865.80,492.12 868.60,493.50 C871.40,494.88 874.92,496.68 877.00,498.50 C879.08,500.32 880.00,504.95 881.10,504.40 C882.20,503.85 882.62,498.55 883.60,495.20 C884.58,491.85 885.88,485.97 887.00,484.30 C888.12,482.63 889.18,483.38 890.30,485.20 C891.42,487.02 892.43,491.72 893.70,495.20 C894.97,498.68 896.52,504.02 897.90,506.10 C899.28,508.18 900.20,508.27 902.00,507.70 C903.80,507.13 906.18,504.65 908.70,502.70 C911.22,500.75 914.03,497.53 917.10,496.00 C920.17,494.47 923.75,493.63 927.10,493.50 C930.45,493.37 933.85,494.22 937.20,495.20 C940.55,496.18 943.87,498.15 947.20,499.40 C950.53,500.65 952.75,501.87 957.20,502.70 C961.65,503.53 968.43,504.02 973.90,504.40 C979.37,504.78 953.98,503.20 990.00,505.00 C1026.02,506.80 1156.67,513.50 1190.00,515.20" fill="none" stroke="#dc2628" stroke-width="4.2" stroke-linecap="round" stroke-linejoin="round"/>
<path d="M797.50,530.30 C797.92,527.80 798.88,519.62 800.00,515.30 C801.12,510.98 802.80,505.80 804.20,504.40 C805.60,503.00 807.15,505.08 808.40,506.90 C809.65,508.72 810.30,512.80 811.70,515.30 C813.10,517.80 814.85,521.63 816.80,521.90 C818.75,522.17 820.90,519.40 823.40,516.90 C825.90,514.40 829.00,510.10 831.80,506.90 C834.60,503.70 837.42,500.22 840.20,497.70 C842.98,495.18 845.72,493.05 848.50,491.80 C851.28,490.55 854.67,491.03 856.90,490.20 C859.13,489.37 860.65,488.75 861.90,486.80 C863.15,484.85 863.28,481.15 864.40,478.50 C865.52,475.85 867.35,471.47 868.60,470.90 C869.85,470.33 870.92,472.45 871.90,475.10 C872.88,477.75 873.38,483.60 874.50,486.80 C875.62,490.00 877.08,493.18 878.60,494.30 C880.12,495.42 881.92,494.33 883.60,493.50 C885.28,492.67 886.47,490.42 888.70,489.30 C890.93,488.18 893.93,486.93 897.00,486.80 C900.07,486.67 903.75,487.38 907.10,488.50 C910.45,489.62 913.77,491.55 917.10,493.50 C920.43,495.45 923.75,498.53 927.10,500.20 C930.45,501.87 932.18,502.80 937.20,503.50 C942.22,504.20 950.07,504.15 957.20,504.40 C964.33,504.65 941.20,502.90 980.00,505.00 C1018.80,507.10 1155.00,515.00 1190.00,517.00" fill="none" stroke="#000000" stroke-width="4.6" stroke-linecap="round" stroke-linejoin="round" stroke-dasharray="8.8 9.3"/>
<path d="M796.70,803.60 C797.25,804.72 798.75,808.07 800.00,810.30 C801.25,812.53 802.80,816.73 804.20,817.00 C805.60,817.27 806.87,814.42 808.40,811.90 C809.93,809.38 811.73,804.40 813.40,801.90 C815.07,799.40 816.87,796.62 818.40,796.90 C819.93,797.18 821.33,802.20 822.60,803.60 C823.87,805.00 824.88,806.13 826.00,805.30 C827.12,804.47 828.05,802.23 829.30,798.60 C830.55,794.97 831.68,788.52 833.50,783.50 C835.32,778.48 837.70,772.53 840.20,768.50 C842.70,764.47 845.43,761.40 848.50,759.30 C851.57,757.20 855.25,756.18 858.60,755.90 C861.95,755.62 865.27,756.35 868.60,757.60 C871.93,758.85 875.25,761.03 878.60,763.40 C881.95,765.77 885.63,769.00 888.70,771.80 C891.77,774.60 893.93,777.83 897.00,780.20 C900.07,782.57 903.20,784.55 907.10,786.00 C911.00,787.45 915.38,788.25 920.40,788.90 C925.42,789.55 931.07,789.82 937.20,789.90 C943.33,789.98 948.40,789.35 957.20,789.40 C966.00,789.45 951.53,789.18 990.00,790.20 C1028.47,791.22 1155.00,794.62 1188.00,795.50" fill="none" stroke="#2673b8" stroke-width="4.2" stroke-linecap="round" stroke-linejoin="round"/>
<path d="M796.70,803.60 C797.25,804.98 798.88,809.67 800.00,811.90 C801.12,814.13 802.00,817.55 803.40,817.00 C804.80,816.45 806.45,811.95 808.40,808.60 C810.35,805.25 812.60,800.38 815.10,796.90 C817.60,793.42 820.33,790.35 823.40,787.70 C826.47,785.05 830.15,782.67 833.50,781.00 C836.85,779.33 840.17,778.40 843.50,777.70 C846.83,777.00 850.15,776.67 853.50,776.80 C856.85,776.93 860.25,777.67 863.60,778.50 C866.95,779.33 870.82,780.55 873.60,781.80 C876.38,783.05 878.48,783.62 880.30,786.00 C882.12,788.38 883.10,793.17 884.50,796.10 C885.90,799.03 887.32,803.18 888.70,803.60 C890.08,804.02 891.13,801.53 892.80,798.60 C894.47,795.67 896.32,789.35 898.70,786.00 C901.08,782.65 904.03,780.25 907.10,778.50 C910.17,776.75 913.77,775.92 917.10,775.50 C920.43,775.08 923.75,775.37 927.10,776.00 C930.45,776.63 933.57,777.92 937.20,779.30 C940.83,780.68 944.17,782.95 948.90,784.30 C953.63,785.65 958.75,786.73 965.60,787.40 C972.45,788.07 952.77,786.98 990.00,788.30 C1027.23,789.62 1155.83,794.13 1189.00,795.30" fill="none" stroke="#dc2628" stroke-width="4.2" stroke-linecap="round" stroke-linejoin="round"/>
<path d="M796.70,805.30 C797.25,806.40 798.75,809.82 800.00,811.90 C801.25,813.98 802.80,817.80 804.20,817.80 C805.60,817.80 806.58,815.10 808.40,811.90 C810.22,808.70 812.60,802.35 815.10,798.60 C817.60,794.85 820.33,791.92 823.40,789.40 C826.47,786.88 830.15,785.03 833.50,783.50 C836.85,781.97 840.17,780.90 843.50,780.20 C846.83,779.50 850.85,779.03 853.50,779.30 C856.15,779.57 857.87,779.98 859.40,781.80 C860.93,783.62 861.45,787.55 862.70,790.20 C863.95,792.85 865.37,797.15 866.90,797.70 C868.43,798.25 870.22,796.15 871.90,793.50 C873.58,790.85 875.05,784.85 877.00,781.80 C878.95,778.75 881.10,776.87 883.60,775.20 C886.10,773.53 889.20,772.23 892.00,771.80 C894.80,771.37 897.33,772.03 900.40,772.60 C903.47,773.17 906.78,773.67 910.40,775.20 C914.02,776.73 918.20,779.72 922.10,781.80 C926.00,783.88 929.33,786.30 933.80,787.70 C938.27,789.10 943.60,789.57 948.90,790.20 C954.20,790.83 958.75,791.17 965.60,791.50 C972.45,791.83 952.93,790.90 990.00,792.20 C1027.07,793.50 1155.00,798.12 1188.00,799.30" fill="none" stroke="#000000" stroke-width="4.6" stroke-linecap="round" stroke-linejoin="round" stroke-dasharray="8.8 9.3"/>
<path d="M798.00,1019.50 C798.33,1016.82 799.33,1008.30 800.00,1003.40 C800.67,998.50 801.22,992.55 802.00,990.10 C802.78,987.65 803.80,987.58 804.70,988.70 C805.60,989.82 806.28,993.67 807.40,996.80 C808.52,999.93 810.18,1004.83 811.40,1007.50 C812.62,1010.17 813.70,1011.70 814.70,1012.80 C815.70,1013.90 816.50,1016.77 817.40,1014.10 C818.30,1011.43 819.20,1001.13 820.10,996.80 C821.00,992.47 821.90,989.78 822.80,988.10 C823.70,986.42 824.62,986.60 825.50,986.70 C826.38,986.80 827.22,986.80 828.10,988.70 C828.98,990.60 829.80,994.53 830.80,998.10 C831.80,1001.67 832.87,1007.70 834.10,1010.10 C835.33,1012.50 835.52,1011.93 838.20,1012.50 C840.88,1013.07 845.97,1013.18 850.20,1013.50 C854.43,1013.82 859.13,1014.07 863.60,1014.40 C868.07,1014.73 872.55,1014.98 877.00,1015.50 C881.45,1016.02 884.73,1016.95 890.30,1017.50 C895.87,1018.05 900.45,1018.47 910.40,1018.80 C920.35,1019.13 903.40,1019.22 950.00,1019.50 C996.60,1019.78 1150.00,1020.33 1190.00,1020.50" fill="none" stroke="#2673b8" stroke-width="4.2" stroke-linecap="round" stroke-linejoin="round"/>
<path d="M797.40,1018.20 C797.62,1014.63 798.15,1001.60 798.70,996.80 C799.25,992.00 799.92,990.52 800.70,989.40 C801.48,988.28 802.50,988.20 803.40,990.10 C804.30,992.00 804.98,997.02 806.10,1000.80 C807.22,1004.58 808.55,1010.08 810.10,1012.80 C811.65,1015.52 812.07,1016.17 815.40,1017.10 C818.73,1018.03 824.30,1018.07 830.10,1018.40 C835.90,1018.73 843.50,1018.87 850.20,1019.10 C856.90,1019.33 865.28,1019.62 870.30,1019.80 C875.32,1019.98 878.30,1021.15 880.30,1020.20 C882.30,1019.25 881.75,1018.00 882.30,1014.10 C882.85,1010.20 883.03,1001.03 883.60,996.80 C884.17,992.57 884.92,990.15 885.70,988.70 C886.48,987.25 887.42,987.65 888.30,988.10 C889.18,988.55 890.10,988.85 891.00,991.40 C891.90,993.95 892.70,999.83 893.70,1003.40 C894.70,1006.97 895.55,1010.83 897.00,1012.80 C898.45,1014.77 899.05,1014.57 902.40,1015.20 C905.75,1015.83 909.17,1016.07 917.10,1016.60 C925.03,1017.13 904.52,1017.60 950.00,1018.40 C995.48,1019.20 1150.00,1020.90 1190.00,1021.40" fill="none" stroke="#dc2628" stroke-width="4.2" stroke-linecap="round" stroke-linejoin="round"/>
<path d="M797.40,1020.80 C797.62,1017.90 798.15,1008.75 798.70,1003.40 C799.25,998.05 799.92,991.48 800.70,988.70 C801.48,985.92 802.50,986.25 803.40,986.70 C804.30,987.15 805.10,988.38 806.10,991.40 C807.10,994.42 808.18,1001.23 809.40,1004.80 C810.62,1008.37 811.73,1011.02 813.40,1012.80 C815.07,1014.58 816.62,1014.93 819.40,1015.50 C822.18,1016.07 825.63,1015.98 830.10,1016.20 C834.57,1016.42 841.95,1016.70 846.20,1016.80 C850.45,1016.90 853.60,1018.13 855.60,1016.80 C857.60,1015.47 857.43,1012.13 858.20,1008.80 C858.97,1005.47 859.42,999.92 860.20,996.80 C860.98,993.68 861.78,991.78 862.90,990.10 C864.02,988.42 865.67,985.82 866.90,986.70 C868.13,987.58 869.30,992.38 870.30,995.40 C871.30,998.42 871.90,1002.12 872.90,1004.80 C873.90,1007.48 874.73,1009.95 876.30,1011.50 C877.87,1013.05 879.30,1013.48 882.30,1014.10 C885.30,1014.72 889.62,1014.85 894.30,1015.20 C898.98,1015.55 901.12,1015.93 910.40,1016.20 C919.68,1016.47 903.57,1016.37 950.00,1016.80 C996.43,1017.23 1149.17,1018.47 1189.00,1018.80" fill="none" stroke="#000000" stroke-width="4.6" stroke-linecap="round" stroke-linejoin="round" stroke-dasharray="8.8 9.3"/>
<path d="M795.50,1352.10 C796.07,1350.70 797.78,1348.45 798.90,1343.70 C800.02,1338.95 801.08,1330.00 802.20,1323.60 C803.32,1317.20 804.48,1309.75 805.60,1305.30 C806.72,1300.85 807.65,1298.17 808.90,1296.90 C810.15,1295.63 811.70,1297.15 813.10,1297.70 C814.50,1298.25 816.05,1300.90 817.30,1300.20 C818.55,1299.50 819.48,1297.40 820.60,1293.50 C821.72,1289.60 822.75,1281.53 824.00,1276.80 C825.25,1272.07 826.72,1267.60 828.10,1265.10 C829.48,1262.60 830.62,1262.08 832.30,1261.80 C833.98,1261.52 836.10,1263.68 838.20,1263.40 C840.30,1263.12 842.68,1261.77 844.90,1260.10 C847.12,1258.43 849.00,1255.77 851.50,1253.40 C854.00,1251.03 856.83,1247.72 859.90,1245.90 C862.97,1244.08 866.83,1242.78 869.90,1242.50 C872.97,1242.22 875.50,1242.93 878.30,1244.20 C881.10,1245.47 883.92,1247.45 886.70,1250.10 C889.48,1252.75 891.93,1256.77 895.00,1260.10 C898.07,1263.43 901.47,1266.75 905.10,1270.10 C908.73,1273.45 912.63,1277.27 916.80,1280.20 C920.97,1283.13 925.08,1285.62 930.10,1287.70 C935.12,1289.78 940.25,1291.40 946.90,1292.70 C953.55,1294.00 959.85,1294.28 970.00,1295.50 C980.15,1296.72 988.90,1297.67 1007.80,1300.00 C1026.70,1302.33 1053.03,1306.00 1083.40,1309.50 C1113.77,1313.00 1172.23,1319.08 1190.00,1321.00" fill="none" stroke="#62a0d8" stroke-width="4.2" stroke-linecap="round" stroke-linejoin="round"/>
<path d="M795.50,1352.10 C795.92,1349.58 797.02,1342.85 798.00,1337.00 C798.98,1331.15 800.28,1323.13 801.40,1317.00 C802.52,1310.87 803.58,1303.55 804.70,1300.20 C805.82,1296.85 806.70,1297.03 808.10,1296.90 C809.50,1296.77 811.15,1298.28 813.10,1299.40 C815.05,1300.52 817.57,1302.90 819.80,1303.60 C822.03,1304.30 824.00,1304.43 826.50,1303.60 C829.00,1302.77 831.73,1300.83 834.80,1298.60 C837.87,1296.37 841.55,1292.72 844.90,1290.20 C848.25,1287.68 851.57,1285.12 854.90,1283.50 C858.23,1281.88 861.83,1280.92 864.90,1280.50 C867.97,1280.08 871.07,1280.37 873.30,1281.00 C875.53,1281.63 876.92,1285.00 878.30,1284.30 C879.68,1283.60 880.35,1280.83 881.60,1276.80 C882.85,1272.77 884.40,1264.13 885.80,1260.10 C887.20,1256.07 888.60,1253.43 890.00,1252.60 C891.40,1251.77 892.67,1253.43 894.20,1255.10 C895.73,1256.77 897.38,1260.23 899.20,1262.60 C901.02,1264.97 902.73,1267.55 905.10,1269.30 C907.47,1271.05 910.62,1272.35 913.40,1273.10 C916.18,1273.85 918.45,1273.32 921.80,1273.80 C925.15,1274.28 929.32,1274.67 933.50,1276.00 C937.68,1277.33 941.88,1279.80 946.90,1281.80 C951.92,1283.80 953.45,1285.55 963.60,1288.00 C973.75,1290.45 987.83,1293.37 1007.80,1296.50 C1027.77,1299.63 1053.17,1302.78 1083.40,1306.80 C1113.63,1310.82 1171.57,1318.30 1189.20,1320.60" fill="none" stroke="#dc2628" stroke-width="4.2" stroke-linecap="round" stroke-linejoin="round"/>
<path d="M795.50,1352.90 C795.92,1350.53 796.88,1344.97 798.00,1338.70 C799.12,1332.43 800.93,1321.72 802.20,1315.30 C803.47,1308.88 804.48,1303.13 805.60,1300.20 C806.72,1297.27 807.37,1297.13 808.90,1297.70 C810.43,1298.27 812.72,1302.07 814.80,1303.60 C816.88,1305.13 818.90,1306.77 821.40,1306.90 C823.90,1307.03 827.00,1305.78 829.80,1304.40 C832.60,1303.02 835.13,1300.83 838.20,1298.60 C841.27,1296.37 844.87,1293.52 848.20,1291.00 C851.53,1288.48 855.97,1286.42 858.20,1283.50 C860.43,1280.58 860.62,1277.40 861.60,1273.50 C862.58,1269.60 863.13,1264.15 864.10,1260.10 C865.07,1256.05 866.28,1251.15 867.40,1249.20 C868.52,1247.25 869.55,1247.70 870.80,1248.40 C872.05,1249.10 873.10,1251.45 874.90,1253.40 C876.70,1255.35 879.08,1258.28 881.60,1260.10 C884.12,1261.92 887.20,1263.18 890.00,1264.30 C892.80,1265.42 895.33,1265.83 898.40,1266.80 C901.47,1267.77 905.07,1268.85 908.40,1270.10 C911.73,1271.35 915.05,1272.48 918.40,1274.30 C921.75,1276.12 925.15,1278.77 928.50,1281.00 C931.85,1283.23 934.88,1285.75 938.50,1287.70 C942.12,1289.65 944.95,1291.08 950.20,1292.70 C955.45,1294.32 960.40,1295.83 970.00,1297.40 C979.60,1298.97 988.90,1299.58 1007.80,1302.10 C1026.70,1304.62 1053.48,1308.40 1083.40,1312.50 C1113.32,1316.60 1169.98,1324.33 1187.30,1326.70" fill="none" stroke="#000000" stroke-width="4.6" stroke-linecap="round" stroke-linejoin="round" stroke-dasharray="8.8 9.3"/>
<path d="M795.50,1501.80 C796.20,1503.47 798.17,1509.02 799.70,1511.80 C801.23,1514.58 803.03,1518.50 804.70,1518.50 C806.37,1518.50 808.02,1514.87 809.70,1511.80 C811.38,1508.73 813.27,1502.33 814.80,1500.10 C816.33,1497.87 817.52,1497.57 818.90,1498.40 C820.28,1499.23 821.83,1503.42 823.10,1505.10 C824.37,1506.78 825.25,1509.05 826.50,1508.50 C827.75,1507.95 828.93,1505.15 830.60,1501.80 C832.27,1498.45 834.40,1491.60 836.50,1488.40 C838.60,1485.20 840.13,1483.98 843.20,1482.60 C846.27,1481.22 850.72,1480.67 854.90,1480.10 C859.08,1479.53 863.85,1479.15 868.30,1479.20 C872.75,1479.25 877.70,1479.70 881.60,1480.40 C885.50,1481.10 888.35,1481.93 891.70,1483.40 C895.05,1484.87 898.37,1487.47 901.70,1489.20 C905.03,1490.93 907.80,1492.77 911.70,1493.80 C915.60,1494.83 919.23,1495.05 925.10,1495.40 C930.97,1495.75 939.42,1495.68 946.90,1495.90 C954.38,1496.12 929.62,1496.03 970.00,1496.70 C1010.38,1497.37 1152.67,1499.37 1189.20,1499.90" fill="none" stroke="#62a0d8" stroke-width="4.2" stroke-linecap="round" stroke-linejoin="round"/>
<path d="M795.50,1501.80 C796.20,1503.20 798.17,1507.83 799.70,1510.20 C801.23,1512.57 803.03,1516.28 804.70,1516.00 C806.37,1515.72 807.88,1511.98 809.70,1508.50 C811.52,1505.02 813.65,1498.45 815.60,1495.10 C817.55,1491.75 818.75,1489.85 821.40,1488.40 C824.05,1486.95 827.32,1486.82 831.50,1486.40 C835.68,1485.98 841.20,1485.90 846.50,1485.90 C851.80,1485.90 858.00,1486.12 863.30,1486.40 C868.60,1486.68 874.68,1486.98 878.30,1487.60 C881.92,1488.22 883.05,1488.30 885.00,1490.10 C886.95,1491.90 888.33,1495.48 890.00,1498.40 C891.67,1501.32 893.33,1507.03 895.00,1507.60 C896.67,1508.17 898.32,1504.43 900.00,1501.80 C901.68,1499.17 903.15,1494.58 905.10,1491.80 C907.05,1489.02 908.92,1486.55 911.70,1485.10 C914.48,1483.65 917.88,1483.25 921.80,1483.10 C925.72,1482.95 930.75,1483.60 935.20,1484.20 C939.65,1484.80 943.77,1485.80 948.50,1486.70 C953.23,1487.60 950.57,1488.47 963.60,1489.60 C976.63,1490.73 989.13,1492.40 1026.70,1493.50 C1064.27,1494.60 1161.95,1495.75 1189.00,1496.20" fill="none" stroke="#dc2628" stroke-width="4.2" stroke-linecap="round" stroke-linejoin="round"/>
<path d="M795.50,1502.60 C796.20,1504.00 798.17,1508.40 799.70,1511.00 C801.23,1513.60 803.03,1518.33 804.70,1518.20 C806.37,1518.07 807.88,1513.77 809.70,1510.20 C811.52,1506.63 813.65,1500.02 815.60,1496.80 C817.55,1493.58 818.75,1492.30 821.40,1490.90 C824.05,1489.50 827.87,1488.82 831.50,1488.40 C835.13,1487.98 839.30,1488.53 843.20,1488.40 C847.10,1488.27 852.12,1487.18 854.90,1487.60 C857.68,1488.02 858.37,1489.10 859.90,1490.90 C861.43,1492.70 862.70,1496.25 864.10,1498.40 C865.50,1500.55 866.92,1503.37 868.30,1503.80 C869.68,1504.23 871.02,1503.00 872.40,1501.00 C873.78,1499.00 874.92,1494.60 876.60,1491.80 C878.28,1489.00 880.27,1485.88 882.50,1484.20 C884.73,1482.52 887.08,1482.12 890.00,1481.70 C892.92,1481.28 896.38,1481.42 900.00,1481.70 C903.62,1481.98 907.52,1482.57 911.70,1483.40 C915.88,1484.23 920.63,1485.30 925.10,1486.70 C929.57,1488.10 933.48,1490.45 938.50,1491.80 C943.52,1493.15 949.12,1494.17 955.20,1494.80 C961.28,1495.43 936.20,1494.97 975.00,1495.60 C1013.80,1496.23 1152.50,1498.10 1188.00,1498.60" fill="none" stroke="#000000" stroke-width="4.6" stroke-linecap="round" stroke-linejoin="round" stroke-dasharray="8.8 9.3"/>
<path d="M796.30,1963.20 C796.80,1962.70 798.18,1962.72 799.30,1960.20 C800.42,1957.68 801.87,1953.37 803.00,1948.10 C804.13,1942.83 805.08,1934.37 806.10,1928.60 C807.12,1922.83 808.10,1916.27 809.10,1913.50 C810.10,1910.73 810.98,1911.00 812.10,1912.00 C813.22,1913.00 814.55,1917.23 815.80,1919.50 C817.05,1921.77 818.47,1925.85 819.60,1925.60 C820.73,1925.35 821.72,1923.02 822.60,1918.00 C823.48,1912.98 824.15,1904.27 824.90,1895.50 C825.65,1886.73 826.35,1872.93 827.10,1865.40 C827.85,1857.87 828.65,1853.32 829.40,1850.30 C830.15,1847.28 830.72,1846.55 831.60,1847.30 C832.48,1848.05 833.57,1852.03 834.70,1854.80 C835.83,1857.57 836.90,1861.77 838.40,1863.90 C839.90,1866.03 841.82,1867.87 843.70,1867.60 C845.58,1867.33 847.45,1865.18 849.70,1862.30 C851.95,1859.42 854.68,1854.30 857.20,1850.30 C859.72,1846.30 862.28,1841.07 864.80,1838.30 C867.32,1835.53 870.05,1834.20 872.30,1833.70 C874.55,1833.20 876.30,1833.92 878.30,1835.30 C880.30,1836.68 882.03,1838.75 884.30,1842.00 C886.57,1845.25 889.38,1850.15 891.90,1854.80 C894.42,1859.45 896.65,1865.13 899.40,1869.90 C902.15,1874.67 905.15,1879.13 908.40,1883.40 C911.65,1887.67 915.13,1891.87 918.90,1895.50 C922.67,1899.13 925.82,1902.30 931.00,1905.20 C936.18,1908.10 941.68,1910.25 950.00,1912.90 C958.32,1915.55 970.62,1918.70 980.90,1921.10 C991.18,1923.50 991.85,1924.32 1011.70,1927.30 C1031.55,1930.28 1070.35,1935.30 1100.00,1939.00 C1129.65,1942.70 1174.67,1947.75 1189.60,1949.50" fill="none" stroke="#62a0d8" stroke-width="4.2" stroke-linecap="round" stroke-linejoin="round"/>
<path d="M796.30,1963.20 C796.92,1962.20 798.75,1961.47 800.00,1957.20 C801.25,1952.93 802.67,1943.88 803.80,1937.60 C804.93,1931.32 805.80,1923.77 806.80,1919.50 C807.80,1915.23 808.67,1912.75 809.80,1912.00 C810.93,1911.25 812.22,1912.73 813.60,1915.00 C814.98,1917.27 816.60,1922.58 818.10,1925.60 C819.60,1928.62 820.85,1931.48 822.60,1933.10 C824.35,1934.72 826.33,1935.55 828.60,1935.30 C830.87,1935.05 833.43,1933.98 836.20,1931.60 C838.97,1929.22 842.20,1924.52 845.20,1921.00 C848.20,1917.48 851.45,1913.25 854.20,1910.50 C856.95,1907.75 859.18,1906.00 861.70,1904.50 C864.22,1903.00 866.78,1901.63 869.30,1901.50 C871.82,1901.37 874.80,1902.95 876.80,1903.70 C878.80,1904.45 880.05,1907.87 881.30,1906.00 C882.55,1904.13 883.30,1900.53 884.30,1892.50 C885.30,1884.47 886.30,1868.10 887.30,1857.80 C888.30,1847.50 889.28,1837.35 890.30,1830.70 C891.32,1824.05 892.52,1819.65 893.40,1817.90 C894.28,1816.15 894.73,1816.55 895.60,1820.20 C896.47,1823.85 897.47,1832.78 898.60,1839.80 C899.73,1846.82 901.02,1855.78 902.40,1862.30 C903.78,1868.82 905.15,1874.63 906.90,1878.90 C908.65,1883.17 910.65,1885.63 912.90,1887.90 C915.15,1890.17 917.38,1891.37 920.40,1892.50 C923.42,1893.63 927.23,1893.70 931.00,1894.70 C934.77,1895.70 939.23,1897.03 943.00,1898.50 C946.77,1899.97 949.00,1901.27 953.60,1903.50 C958.20,1905.73 962.63,1908.78 970.60,1911.90 C978.57,1915.02 987.70,1918.95 1001.40,1922.20 C1015.10,1925.45 1033.95,1928.50 1052.80,1931.40 C1071.65,1934.30 1091.70,1936.52 1114.50,1939.60 C1137.30,1942.68 1177.08,1948.18 1189.60,1949.90" fill="none" stroke="#dc2628" stroke-width="4.2" stroke-linecap="round" stroke-linejoin="round"/>
<path d="M796.30,1963.90 C796.92,1963.28 798.75,1964.08 800.00,1960.20 C801.25,1956.32 802.67,1947.13 803.80,1940.60 C804.93,1934.07 805.67,1926.02 806.80,1921.00 C807.93,1915.98 809.35,1911.25 810.60,1910.50 C811.85,1909.75 812.92,1913.73 814.30,1916.50 C815.68,1919.27 817.27,1924.08 818.90,1927.10 C820.53,1930.12 822.23,1932.85 824.10,1934.60 C825.97,1936.35 827.83,1937.85 830.10,1937.60 C832.37,1937.35 834.93,1935.60 837.70,1933.10 C840.47,1930.60 843.70,1925.87 846.70,1922.60 C849.70,1919.33 853.20,1916.02 855.70,1913.50 C858.20,1910.98 860.32,1910.50 861.70,1907.50 C863.08,1904.50 863.37,1901.27 864.00,1895.50 C864.63,1889.73 865.00,1880.43 865.50,1872.90 C866.00,1865.37 866.50,1857.83 867.00,1850.30 C867.50,1842.77 867.87,1834.47 868.50,1827.70 C869.13,1820.93 870.05,1813.97 870.80,1809.70 C871.55,1805.43 872.13,1802.85 873.00,1802.10 C873.87,1801.35 875.12,1802.18 876.00,1805.20 C876.88,1808.22 877.42,1814.68 878.30,1820.20 C879.18,1825.72 880.05,1832.03 881.30,1838.30 C882.55,1844.57 884.03,1852.28 885.80,1857.80 C887.57,1863.32 889.63,1868.13 891.90,1871.40 C894.17,1874.67 896.65,1875.65 899.40,1877.40 C902.15,1879.15 905.40,1880.15 908.40,1881.90 C911.40,1883.65 914.13,1885.63 917.40,1887.90 C920.67,1890.17 924.23,1892.23 928.00,1895.50 C931.77,1898.77 935.73,1904.08 940.00,1907.50 C944.27,1910.92 948.50,1913.55 953.60,1916.00 C958.70,1918.45 960.92,1919.80 970.60,1922.20 C980.28,1924.60 994.57,1927.67 1011.70,1930.40 C1028.83,1933.13 1052.83,1935.68 1073.40,1938.60 C1093.97,1941.52 1115.73,1945.15 1135.10,1947.90 C1154.47,1950.65 1180.52,1953.90 1189.60,1955.10" fill="none" stroke="#000000" stroke-width="4.6" stroke-linecap="round" stroke-linejoin="round" stroke-dasharray="8.8 9.3"/>
<path d="M795.50,2364.60 C797.27,2364.40 802.93,2363.92 806.10,2363.40 C809.27,2362.88 812.42,2362.48 814.50,2361.50 C816.58,2360.52 817.50,2362.20 818.60,2357.50 C819.70,2352.80 820.18,2342.35 821.10,2333.30 C822.02,2324.25 823.10,2310.98 824.10,2303.20 C825.10,2295.42 826.10,2289.23 827.10,2286.60 C828.10,2283.97 829.08,2284.63 830.10,2287.40 C831.12,2290.17 832.07,2296.80 833.20,2303.20 C834.33,2309.60 835.65,2320.92 836.90,2325.80 C838.15,2330.68 839.32,2331.88 840.70,2332.50 C842.08,2333.12 843.45,2330.62 845.20,2329.50 C846.95,2328.38 848.95,2326.30 851.20,2325.80 C853.45,2325.30 855.93,2326.00 858.70,2326.50 C861.47,2327.00 864.78,2327.67 867.80,2328.80 C870.82,2329.93 873.80,2331.55 876.80,2333.30 C879.80,2335.05 882.78,2337.05 885.80,2339.30 C888.82,2341.55 891.63,2344.53 894.90,2346.80 C898.17,2349.07 901.65,2351.38 905.40,2352.90 C909.15,2354.42 913.13,2355.03 917.40,2355.90 C921.67,2356.77 926.23,2357.48 931.00,2358.10 C935.77,2358.72 939.83,2359.10 946.00,2359.60 C952.17,2360.10 957.05,2360.62 968.00,2361.10 C978.95,2361.58 974.93,2362.22 1011.70,2362.50 C1048.47,2362.78 1159.12,2362.75 1188.60,2362.80" fill="none" stroke="#62a0d8" stroke-width="4.2" stroke-linecap="round" stroke-linejoin="round"/>
<path d="M795.50,2365.70 C797.27,2365.57 802.33,2365.53 806.10,2364.90 C809.87,2364.27 814.10,2363.40 818.10,2361.90 C822.10,2360.40 826.58,2357.28 830.10,2355.90 C833.62,2354.52 836.18,2354.10 839.20,2353.60 C842.22,2353.10 845.20,2352.77 848.20,2352.90 C851.20,2353.03 853.93,2353.90 857.20,2354.40 C860.47,2354.90 864.28,2355.28 867.80,2355.90 C871.32,2356.52 874.80,2357.23 878.30,2358.10 C881.80,2358.97 886.67,2361.47 888.80,2361.10 C890.93,2360.73 890.47,2364.30 891.10,2355.90 C891.73,2347.50 892.10,2324.50 892.60,2310.70 C893.10,2296.90 893.60,2282.13 894.10,2273.10 C894.60,2264.07 895.02,2259.63 895.60,2256.50 C896.18,2253.37 896.85,2253.28 897.60,2254.30 C898.35,2255.32 899.30,2255.70 900.10,2262.60 C900.90,2269.50 901.52,2283.92 902.40,2295.70 C903.28,2307.48 904.40,2324.78 905.40,2333.30 C906.40,2341.82 906.90,2344.05 908.40,2346.80 C909.90,2349.55 911.88,2349.67 914.40,2349.80 C916.92,2349.93 920.73,2347.97 923.50,2347.60 C926.27,2347.23 928.25,2347.23 931.00,2347.60 C933.75,2347.97 936.73,2348.80 940.00,2349.80 C943.27,2350.80 945.50,2352.30 950.60,2353.60 C955.70,2354.90 960.42,2356.35 970.60,2357.60 C980.78,2358.85 994.57,2360.17 1011.70,2361.10 C1028.83,2362.03 1043.92,2362.78 1073.40,2363.20 C1102.88,2363.62 1169.40,2363.53 1188.60,2363.60" fill="none" stroke="#dc2628" stroke-width="4.2" stroke-linecap="round" stroke-linejoin="round"/>
<path d="M795.50,2364.90 C797.27,2364.65 802.33,2364.28 806.10,2363.40 C809.87,2362.52 814.10,2360.98 818.10,2359.60 C822.10,2358.22 826.33,2356.22 830.10,2355.10 C833.87,2353.98 837.18,2353.27 840.70,2352.90 C844.22,2352.53 847.95,2352.65 851.20,2352.90 C854.45,2353.15 858.07,2354.28 860.20,2354.40 C862.33,2354.52 863.23,2358.37 864.00,2353.60 C864.77,2348.83 864.55,2337.97 864.80,2325.80 C865.05,2313.63 865.13,2295.65 865.50,2280.60 C865.87,2265.55 866.50,2247.53 867.00,2235.50 C867.50,2223.47 867.92,2215.18 868.50,2208.40 C869.08,2201.62 869.75,2196.57 870.50,2194.80 C871.25,2193.03 872.08,2194.78 873.00,2197.80 C873.92,2200.82 875.23,2205.37 876.00,2212.90 C876.77,2220.43 877.08,2231.72 877.60,2243.00 C878.12,2254.28 878.60,2269.32 879.10,2280.60 C879.60,2291.88 879.98,2302.67 880.60,2310.70 C881.22,2318.73 881.68,2324.28 882.80,2328.80 C883.92,2333.32 885.03,2336.05 887.30,2337.80 C889.57,2339.55 893.13,2338.55 896.40,2339.30 C899.67,2340.05 903.40,2341.05 906.90,2342.30 C910.40,2343.55 913.38,2345.03 917.40,2346.80 C921.42,2348.57 926.23,2351.17 931.00,2352.90 C935.77,2354.63 939.83,2356.08 946.00,2357.20 C952.17,2358.32 960.48,2359.02 968.00,2359.60 C975.52,2360.18 980.38,2360.27 991.10,2360.70 C1001.82,2361.13 1000.07,2361.72 1032.30,2362.20 C1064.53,2362.68 1159.13,2363.37 1184.50,2363.60" fill="none" stroke="#231f20" stroke-width="4.6" stroke-linecap="round" stroke-linejoin="round" stroke-dasharray="8.8 9.3"/>
<line x1="296.90" y1="1730.00" x2="296.90" y2="1766.00" stroke="#dc2628" stroke-width="3.0"/>
<path d="M287.05,1765.00 L306.75,1765.00 L296.90,1781.90 Z" fill="#dc2628"/>
<line x1="297.10" y1="2093.00" x2="297.10" y2="2128.60" stroke="#dc2628" stroke-width="3.0"/>
<path d="M287.20,2127.60 L307.00,2127.60 L297.10,2144.50 Z" fill="#dc2628"/>
<line x1="870.30" y1="1731.40" x2="870.30" y2="1774.50" stroke="#000000" stroke-width="3.0"/>
<path d="M860.45,1773.50 L880.15,1773.50 L870.30,1790.90 Z" fill="#000000"/>
<line x1="869.90" y1="2111.40" x2="869.90" y2="2154.50" stroke="#000000" stroke-width="3.0"/>
<path d="M860.00,2153.50 L879.80,2153.50 L869.90,2170.90 Z" fill="#000000"/>
<text transform="translate(285.58,2470.40) scale(0.9903,1.0000)" font-size="41" fill="#231f20" stroke="#231f20" stroke-width="0.35">Time (min)</text>
<text transform="translate(876.18,2470.00) scale(0.9924,1.0000)" font-size="41" fill="#231f20" stroke="#231f20" stroke-width="0.35">Time (min)</text>
</svg>
</body></html>
